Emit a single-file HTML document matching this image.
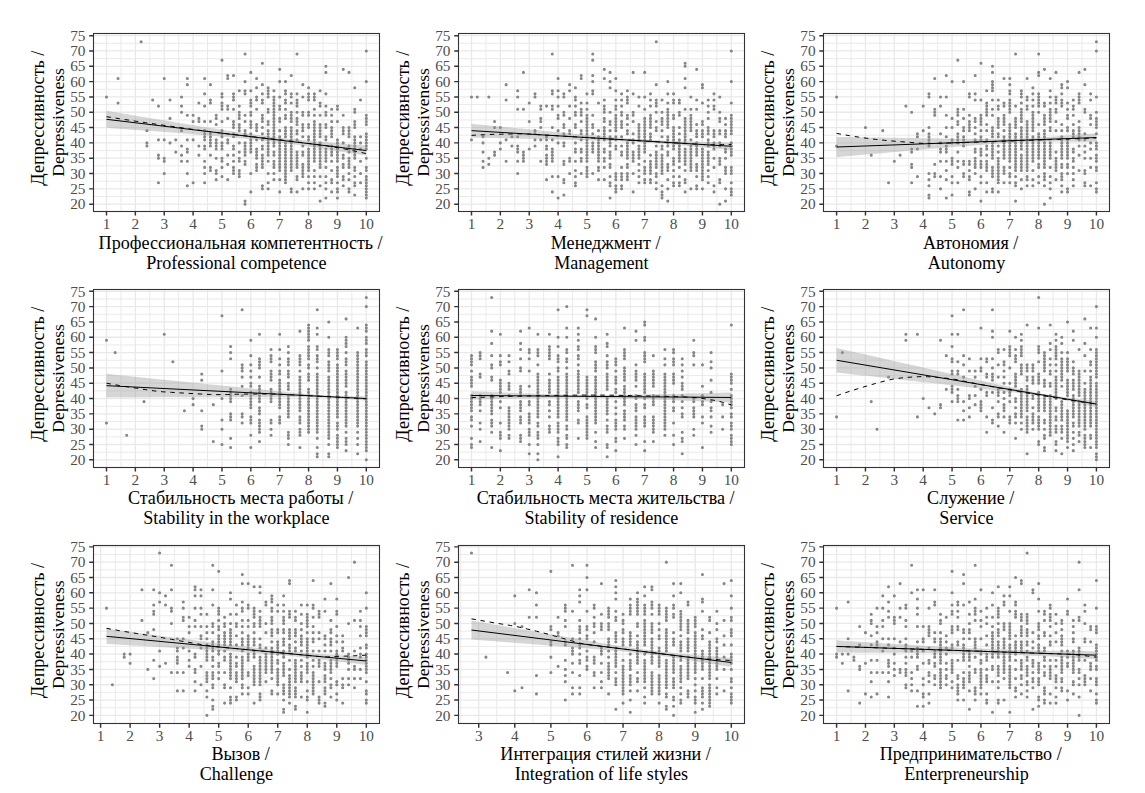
<!DOCTYPE html>
<html><head><meta charset="utf-8"><title>Depressiveness scatter plots</title>
<style>html,body{margin:0;padding:0;background:#fff;}body{width:1145px;height:793px;overflow:hidden;}svg{display:block;font-family:'Liberation Serif', 'Noto Serif CJK SC', serif;}</style>
</head><body>
<svg width="1145" height="793" viewBox="0 0 1145 793">
<rect width="1145" height="793" fill="#fff"/>
<g>
<clipPath id="c0"><rect x="93.5" y="33.5" width="285.8" height="177.7"/></clipPath>
<path d="M120.93 33.5V211.2M149.79 33.5V211.2M178.66 33.5V211.2M207.53 33.5V211.2M236.4 33.5V211.2M265.27 33.5V211.2M294.14 33.5V211.2M323.01 33.5V211.2M351.87 33.5V211.2M93.5 196.51H379.3M93.5 181.19H379.3M93.5 165.87H379.3M93.5 150.55H379.3M93.5 135.23H379.3M93.5 119.91H379.3M93.5 104.59H379.3M93.5 89.27H379.3M93.5 73.95H379.3M93.5 58.63H379.3M93.5 43.31H379.3" stroke="#E9E9E9" stroke-width="0.95" fill="none"/>
<path d="M106.49 33.5V211.2M135.36 33.5V211.2M164.23 33.5V211.2M193.1 33.5V211.2M221.97 33.5V211.2M250.83 33.5V211.2M279.7 33.5V211.2M308.57 33.5V211.2M337.44 33.5V211.2M366.31 33.5V211.2M93.5 204.17H379.3M93.5 188.85H379.3M93.5 173.53H379.3M93.5 158.21H379.3M93.5 142.89H379.3M93.5 127.57H379.3M93.5 112.25H379.3M93.5 96.93H379.3M93.5 81.61H379.3M93.5 66.29H379.3M93.5 50.97H379.3M93.5 35.65H379.3" stroke="#E9E9E9" stroke-width="1.3" fill="none"/>
<path d="M106.49 96.93h0M118.04 103.06h0M118.04 78.55h0M141.13 41.78h0M146.91 145.95h0M146.91 142.89h0M146.91 130.63h0M152.68 99.99h0M158.45 182.72h0M158.45 158.21h0M158.45 155.15h0M158.45 139.83h0M158.45 106.12h0M164.23 173.53h0M164.23 161.27h0M164.23 158.21h0M164.23 139.83h0M164.23 78.55h0M170 142.89h0M170 118.38h0M170 99.99h0M175.78 152.08h0M175.78 139.83h0M181.55 161.27h0M181.55 155.15h0M181.55 145.95h0M181.55 130.63h0M181.55 112.25h0M181.55 106.12h0M181.55 96.93h0M187.32 185.79h0M187.32 173.53h0M187.32 161.27h0M187.32 152.08h0M187.32 149.02h0M187.32 139.83h0M187.32 115.31h0M187.32 84.67h0M187.32 78.55h0M193.1 182.72h0M193.1 139.83h0M193.1 121.44h0M193.1 115.31h0M198.87 155.15h0M198.87 145.95h0M198.87 121.44h0M198.87 118.38h0M198.87 103.06h0M204.64 182.72h0M204.64 173.53h0M204.64 167.4h0M204.64 161.27h0M204.64 149.02h0M204.64 145.95h0M204.64 139.83h0M204.64 136.76h0M204.64 133.7h0M204.64 130.63h0M204.64 121.44h0M204.64 106.12h0M204.64 93.87h0M204.64 78.55h0M210.42 170.47h0M210.42 167.4h0M210.42 155.15h0M210.42 145.95h0M210.42 142.89h0M210.42 139.83h0M210.42 136.76h0M210.42 133.7h0M210.42 121.44h0M210.42 103.06h0M210.42 99.99h0M210.42 84.67h0M216.19 179.66h0M216.19 173.53h0M216.19 170.47h0M216.19 158.21h0M216.19 149.02h0M216.19 145.95h0M216.19 142.89h0M216.19 139.83h0M216.19 124.51h0M216.19 118.38h0M216.19 115.31h0M221.97 176.59h0M221.97 167.4h0M221.97 161.27h0M221.97 158.21h0M221.97 149.02h0M221.97 145.95h0M221.97 142.89h0M221.97 136.76h0M221.97 133.7h0M221.97 130.63h0M221.97 121.44h0M221.97 109.19h0M221.97 106.12h0M221.97 103.06h0M221.97 96.93h0M221.97 93.87h0M221.97 60.16h0M227.74 179.66h0M227.74 164.34h0M227.74 155.15h0M227.74 142.89h0M227.74 139.83h0M227.74 118.38h0M227.74 109.19h0M227.74 106.12h0M227.74 78.55h0M227.74 75.48h0M233.51 173.53h0M233.51 170.47h0M233.51 167.4h0M233.51 161.27h0M233.51 155.15h0M233.51 149.02h0M233.51 145.95h0M233.51 136.76h0M233.51 133.7h0M233.51 127.57h0M233.51 124.51h0M233.51 121.44h0M233.51 109.19h0M233.51 99.99h0M233.51 96.93h0M233.51 93.87h0M233.51 75.48h0M239.29 176.59h0M239.29 173.53h0M239.29 170.47h0M239.29 161.27h0M239.29 158.21h0M239.29 152.08h0M239.29 142.89h0M239.29 130.63h0M239.29 127.57h0M239.29 124.51h0M239.29 118.38h0M239.29 115.31h0M239.29 112.25h0M239.29 106.12h0M239.29 90.8h0M245.06 204.17h0M245.06 201.11h0M245.06 164.34h0M245.06 161.27h0M245.06 155.15h0M245.06 152.08h0M245.06 149.02h0M245.06 145.95h0M245.06 142.89h0M245.06 133.7h0M245.06 130.63h0M245.06 121.44h0M245.06 115.31h0M245.06 93.87h0M245.06 90.8h0M245.06 81.61h0M245.06 54.03h0M250.83 191.91h0M250.83 173.53h0M250.83 152.08h0M250.83 149.02h0M250.83 145.95h0M250.83 142.89h0M250.83 139.83h0M250.83 136.76h0M250.83 133.7h0M250.83 127.57h0M250.83 124.51h0M250.83 121.44h0M250.83 115.31h0M250.83 112.25h0M250.83 106.12h0M250.83 103.06h0M250.83 99.99h0M250.83 90.8h0M250.83 72.42h0M256.61 170.47h0M256.61 167.4h0M256.61 164.34h0M256.61 158.21h0M256.61 155.15h0M256.61 152.08h0M256.61 149.02h0M256.61 139.83h0M256.61 130.63h0M256.61 127.57h0M256.61 124.51h0M256.61 109.19h0M256.61 99.99h0M256.61 96.93h0M256.61 87.74h0M256.61 78.55h0M262.38 188.85h0M262.38 185.79h0M262.38 167.4h0M262.38 164.34h0M262.38 161.27h0M262.38 158.21h0M262.38 155.15h0M262.38 149.02h0M262.38 145.95h0M262.38 139.83h0M262.38 133.7h0M262.38 127.57h0M262.38 121.44h0M262.38 118.38h0M262.38 115.31h0M262.38 103.06h0M262.38 99.99h0M262.38 93.87h0M262.38 84.67h0M262.38 63.23h0M268.16 188.85h0M268.16 182.72h0M268.16 173.53h0M268.16 161.27h0M268.16 155.15h0M268.16 152.08h0M268.16 149.02h0M268.16 145.95h0M268.16 142.89h0M268.16 139.83h0M268.16 136.76h0M268.16 133.7h0M268.16 130.63h0M268.16 124.51h0M268.16 121.44h0M268.16 112.25h0M268.16 109.19h0M268.16 96.93h0M268.16 93.87h0M268.16 90.8h0M268.16 87.74h0M273.93 179.66h0M273.93 173.53h0M273.93 167.4h0M273.93 164.34h0M273.93 161.27h0M273.93 155.15h0M273.93 152.08h0M273.93 145.95h0M273.93 142.89h0M273.93 139.83h0M273.93 136.76h0M273.93 133.7h0M273.93 130.63h0M273.93 127.57h0M273.93 124.51h0M273.93 121.44h0M273.93 118.38h0M273.93 115.31h0M273.93 112.25h0M273.93 109.19h0M273.93 106.12h0M273.93 103.06h0M273.93 99.99h0M273.93 96.93h0M273.93 90.8h0M279.7 191.91h0M279.7 179.66h0M279.7 170.47h0M279.7 167.4h0M279.7 164.34h0M279.7 161.27h0M279.7 158.21h0M279.7 155.15h0M279.7 152.08h0M279.7 149.02h0M279.7 145.95h0M279.7 142.89h0M279.7 139.83h0M279.7 136.76h0M279.7 130.63h0M279.7 121.44h0M279.7 118.38h0M279.7 109.19h0M279.7 106.12h0M279.7 96.93h0M279.7 81.61h0M279.7 69.35h0M285.48 182.72h0M285.48 179.66h0M285.48 176.59h0M285.48 173.53h0M285.48 170.47h0M285.48 167.4h0M285.48 164.34h0M285.48 161.27h0M285.48 158.21h0M285.48 155.15h0M285.48 152.08h0M285.48 149.02h0M285.48 145.95h0M285.48 142.89h0M285.48 136.76h0M285.48 133.7h0M285.48 130.63h0M285.48 127.57h0M285.48 118.38h0M285.48 115.31h0M285.48 109.19h0M285.48 103.06h0M285.48 99.99h0M285.48 93.87h0M285.48 90.8h0M285.48 81.61h0M291.25 191.91h0M291.25 188.85h0M291.25 170.47h0M291.25 167.4h0M291.25 164.34h0M291.25 161.27h0M291.25 158.21h0M291.25 155.15h0M291.25 152.08h0M291.25 149.02h0M291.25 145.95h0M291.25 142.89h0M291.25 139.83h0M291.25 136.76h0M291.25 133.7h0M291.25 130.63h0M291.25 127.57h0M291.25 121.44h0M291.25 118.38h0M291.25 115.31h0M291.25 112.25h0M291.25 103.06h0M291.25 96.93h0M291.25 93.87h0M291.25 75.48h0M297.02 191.91h0M297.02 179.66h0M297.02 176.59h0M297.02 167.4h0M297.02 164.34h0M297.02 161.27h0M297.02 158.21h0M297.02 155.15h0M297.02 152.08h0M297.02 139.83h0M297.02 133.7h0M297.02 130.63h0M297.02 124.51h0M297.02 121.44h0M297.02 118.38h0M297.02 112.25h0M297.02 106.12h0M297.02 103.06h0M297.02 99.99h0M297.02 93.87h0M297.02 54.03h0M302.8 188.85h0M302.8 176.59h0M302.8 173.53h0M302.8 170.47h0M302.8 167.4h0M302.8 164.34h0M302.8 155.15h0M302.8 152.08h0M302.8 145.95h0M302.8 136.76h0M302.8 130.63h0M302.8 127.57h0M302.8 124.51h0M302.8 115.31h0M302.8 112.25h0M302.8 96.93h0M302.8 84.67h0M308.57 188.85h0M308.57 182.72h0M308.57 176.59h0M308.57 170.47h0M308.57 167.4h0M308.57 164.34h0M308.57 161.27h0M308.57 158.21h0M308.57 155.15h0M308.57 152.08h0M308.57 149.02h0M308.57 139.83h0M308.57 136.76h0M308.57 127.57h0M308.57 124.51h0M308.57 115.31h0M308.57 112.25h0M308.57 99.99h0M308.57 96.93h0M308.57 93.87h0M308.57 87.74h0M314.35 188.85h0M314.35 182.72h0M314.35 176.59h0M314.35 170.47h0M314.35 161.27h0M314.35 158.21h0M314.35 155.15h0M314.35 152.08h0M314.35 149.02h0M314.35 145.95h0M314.35 142.89h0M314.35 139.83h0M314.35 136.76h0M314.35 133.7h0M314.35 130.63h0M314.35 127.57h0M314.35 124.51h0M314.35 121.44h0M314.35 115.31h0M314.35 109.19h0M314.35 99.99h0M314.35 96.93h0M314.35 93.87h0M320.12 201.11h0M320.12 185.79h0M320.12 176.59h0M320.12 167.4h0M320.12 164.34h0M320.12 161.27h0M320.12 158.21h0M320.12 155.15h0M320.12 152.08h0M320.12 149.02h0M320.12 145.95h0M320.12 142.89h0M320.12 136.76h0M320.12 133.7h0M320.12 130.63h0M320.12 127.57h0M320.12 124.51h0M320.12 115.31h0M320.12 106.12h0M320.12 103.06h0M320.12 90.8h0M325.89 198.04h0M325.89 188.85h0M325.89 182.72h0M325.89 176.59h0M325.89 167.4h0M325.89 161.27h0M325.89 158.21h0M325.89 155.15h0M325.89 152.08h0M325.89 149.02h0M325.89 139.83h0M325.89 136.76h0M325.89 127.57h0M325.89 124.51h0M325.89 115.31h0M325.89 112.25h0M325.89 106.12h0M325.89 93.87h0M325.89 72.42h0M325.89 66.29h0M331.67 191.91h0M331.67 182.72h0M331.67 179.66h0M331.67 170.47h0M331.67 161.27h0M331.67 155.15h0M331.67 152.08h0M331.67 149.02h0M331.67 145.95h0M331.67 136.76h0M331.67 133.7h0M331.67 130.63h0M331.67 127.57h0M331.67 121.44h0M331.67 115.31h0M331.67 109.19h0M337.44 198.04h0M337.44 191.91h0M337.44 188.85h0M337.44 182.72h0M337.44 176.59h0M337.44 173.53h0M337.44 170.47h0M337.44 167.4h0M337.44 161.27h0M337.44 158.21h0M337.44 155.15h0M337.44 152.08h0M337.44 149.02h0M337.44 145.95h0M337.44 142.89h0M337.44 139.83h0M337.44 121.44h0M337.44 109.19h0M337.44 106.12h0M343.21 185.79h0M343.21 179.66h0M343.21 176.59h0M343.21 167.4h0M343.21 164.34h0M343.21 158.21h0M343.21 155.15h0M343.21 142.89h0M343.21 133.7h0M343.21 130.63h0M343.21 127.57h0M343.21 115.31h0M343.21 69.35h0M348.99 191.91h0M348.99 188.85h0M348.99 179.66h0M348.99 173.53h0M348.99 167.4h0M348.99 164.34h0M348.99 161.27h0M348.99 158.21h0M348.99 152.08h0M348.99 149.02h0M348.99 145.95h0M348.99 136.76h0M348.99 133.7h0M348.99 130.63h0M348.99 127.57h0M348.99 72.42h0M354.76 194.98h0M354.76 185.79h0M354.76 182.72h0M354.76 176.59h0M354.76 170.47h0M354.76 167.4h0M354.76 158.21h0M354.76 155.15h0M354.76 152.08h0M354.76 149.02h0M354.76 145.95h0M354.76 142.89h0M354.76 139.83h0M354.76 136.76h0M354.76 127.57h0M354.76 124.51h0M354.76 121.44h0M354.76 112.25h0M354.76 109.19h0M354.76 87.74h0M360.54 182.72h0M360.54 173.53h0M360.54 161.27h0M360.54 149.02h0M360.54 142.89h0M360.54 136.76h0M360.54 99.99h0M366.31 198.04h0M366.31 194.98h0M366.31 191.91h0M366.31 188.85h0M366.31 185.79h0M366.31 182.72h0M366.31 179.66h0M366.31 176.59h0M366.31 170.47h0M366.31 167.4h0M366.31 158.21h0M366.31 149.02h0M366.31 145.95h0M366.31 142.89h0M366.31 139.83h0M366.31 136.76h0M366.31 133.7h0M366.31 124.51h0M366.31 121.44h0M366.31 118.38h0M366.31 115.31h0M366.31 81.61h0M366.31 50.97h0" stroke="#868686" stroke-width="3.1" stroke-linecap="round" fill="none" clip-path="url(#c0)"/>
<path d="M106.49 110.87L112.99 111.95L119.48 113.03L125.98 114.11L132.47 115.19L138.97 116.27L145.46 117.34L151.96 118.41L158.45 119.49L164.95 120.55L171.45 121.62L177.94 122.68L184.44 123.74L190.93 124.79L197.43 125.84L203.92 126.88L210.42 127.92L216.91 128.94L223.41 129.95L229.9 130.95L236.4 131.93L242.9 132.89L249.39 133.83L255.89 134.73L262.38 135.6L268.88 136.43L275.37 137.23L281.87 137.98L288.36 138.69L294.86 139.37L301.35 140.01L307.85 140.63L314.35 141.22L320.84 141.79L327.34 142.35L333.83 142.9L340.33 143.43L346.82 143.96L353.32 144.47L359.81 144.99L366.31 145.49L366.31 155.61L359.81 154.55L353.32 153.5L346.82 152.46L340.33 151.42L333.83 150.39L327.34 149.37L320.84 148.37L314.35 147.38L307.85 146.41L301.35 145.46L294.86 144.54L288.36 143.66L281.87 142.8L275.37 142L268.88 141.23L262.38 140.49L255.89 139.8L249.39 139.15L242.9 138.52L236.4 137.92L229.9 137.33L223.41 136.77L216.91 136.22L210.42 135.68L203.92 135.15L197.43 134.63L190.93 134.11L184.44 133.61L177.94 133.1L171.45 132.6L164.95 132.1L158.45 131.61L151.96 131.12L145.46 130.63L138.97 130.14L132.47 129.65L125.98 129.17L119.48 128.69L112.99 128.2L106.49 127.72Z" fill="#999999" fill-opacity="0.4" clip-path="url(#c0)"/>
<path d="M106.49 116.69L110.82 117.37L115.15 118.04L119.48 118.71L123.81 119.37L128.14 120.03L132.47 120.69L136.8 121.33L141.13 121.98L145.46 122.62L149.79 123.25L154.12 123.88L158.45 124.5L162.78 125.12L167.12 125.73L171.45 126.34L175.78 126.96L180.11 127.58L184.44 128.19L188.77 128.8L193.1 129.41L197.43 130L201.76 130.59L206.09 131.17L210.42 131.74L214.75 132.29L219.08 132.84L223.41 133.36L227.74 133.87L232.07 134.38L236.4 134.87L240.73 135.37L245.06 135.86L249.39 136.35L253.72 136.83L258.05 137.32L262.38 137.81L266.71 138.3L271.04 138.8L275.37 139.31L279.7 139.83L284.03 140.35L288.36 140.88L292.69 141.42L297.02 141.96L301.35 142.51L305.68 143.07L310.02 143.63L314.35 144.2L318.68 144.77L323.01 145.34L327.34 145.95L331.67 146.63L336 147.37L340.33 148.16L344.66 148.99L348.99 149.87L353.32 150.77L357.65 151.7L361.98 152.65L366.31 153.61" stroke="#000" stroke-width="1" stroke-dasharray="4.5,4.7" fill="none" clip-path="url(#c0)"/>
<path d="M106.49 119.3L366.31 150.55" stroke="#000" stroke-width="1" fill="none" clip-path="url(#c0)"/>
<rect x="93.5" y="33.5" width="286" height="178" fill="none" stroke="#333333" stroke-width="1.1"/>
<path d="M106.49 211.2v4.3M135.36 211.2v4.3M164.23 211.2v4.3M193.1 211.2v4.3M221.97 211.2v4.3M250.83 211.2v4.3M279.7 211.2v4.3M308.57 211.2v4.3M337.44 211.2v4.3M366.31 211.2v4.3M93.5 204.17h-4.3M93.5 188.85h-4.3M93.5 173.53h-4.3M93.5 158.21h-4.3M93.5 142.89h-4.3M93.5 127.57h-4.3M93.5 112.25h-4.3M93.5 96.93h-4.3M93.5 81.61h-4.3M93.5 66.29h-4.3M93.5 50.97h-4.3M93.5 35.65h-4.3" stroke="#333333" stroke-width="1.45" fill="none"/>
<text x="106.49" y="229.3" text-anchor="middle" font-size="15.3" fill="#4D4D4D">1</text>
<text x="135.36" y="229.3" text-anchor="middle" font-size="15.3" fill="#4D4D4D">2</text>
<text x="164.23" y="229.3" text-anchor="middle" font-size="15.3" fill="#4D4D4D">3</text>
<text x="193.1" y="229.3" text-anchor="middle" font-size="15.3" fill="#4D4D4D">4</text>
<text x="221.97" y="229.3" text-anchor="middle" font-size="15.3" fill="#4D4D4D">5</text>
<text x="250.83" y="229.3" text-anchor="middle" font-size="15.3" fill="#4D4D4D">6</text>
<text x="279.7" y="229.3" text-anchor="middle" font-size="15.3" fill="#4D4D4D">7</text>
<text x="308.57" y="229.3" text-anchor="middle" font-size="15.3" fill="#4D4D4D">8</text>
<text x="337.44" y="229.3" text-anchor="middle" font-size="15.3" fill="#4D4D4D">9</text>
<text x="366.31" y="229.3" text-anchor="middle" font-size="15.3" fill="#4D4D4D">10</text>
<text x="85.5" y="209.37" text-anchor="end" font-size="15.3" fill="#4D4D4D">20</text>
<text x="85.5" y="194.05" text-anchor="end" font-size="15.3" fill="#4D4D4D">25</text>
<text x="85.5" y="178.73" text-anchor="end" font-size="15.3" fill="#4D4D4D">30</text>
<text x="85.5" y="163.41" text-anchor="end" font-size="15.3" fill="#4D4D4D">35</text>
<text x="85.5" y="148.09" text-anchor="end" font-size="15.3" fill="#4D4D4D">40</text>
<text x="85.5" y="132.77" text-anchor="end" font-size="15.3" fill="#4D4D4D">45</text>
<text x="85.5" y="117.45" text-anchor="end" font-size="15.3" fill="#4D4D4D">50</text>
<text x="85.5" y="102.13" text-anchor="end" font-size="15.3" fill="#4D4D4D">55</text>
<text x="85.5" y="86.81" text-anchor="end" font-size="15.3" fill="#4D4D4D">60</text>
<text x="85.5" y="71.49" text-anchor="end" font-size="15.3" fill="#4D4D4D">65</text>
<text x="85.5" y="56.17" text-anchor="end" font-size="15.3" fill="#4D4D4D">70</text>
<text x="85.5" y="40.85" text-anchor="end" font-size="15.3" fill="#4D4D4D">75</text>
<text x="240.6" y="249" text-anchor="middle" font-size="18.1" fill="#000">Профессиональная компетентность /</text>
<text x="236.4" y="268.6" text-anchor="middle" font-size="18.1" fill="#000">Professional competence</text>
<text transform="translate(43.9,118.15) rotate(-90)" text-anchor="middle" font-size="18.1" fill="#000">Депрессивность /</text>
<text transform="translate(63.5,122.35) rotate(-90)" text-anchor="middle" font-size="17.62" fill="#000">Depressiveness</text>
</g>
<g>
<clipPath id="c1"><rect x="458.5" y="33.5" width="285.8" height="177.7"/></clipPath>
<path d="M485.93 33.5V211.2M514.79 33.5V211.2M543.66 33.5V211.2M572.53 33.5V211.2M601.4 33.5V211.2M630.27 33.5V211.2M659.14 33.5V211.2M688.01 33.5V211.2M716.87 33.5V211.2M458.5 196.51H744.3M458.5 181.19H744.3M458.5 165.87H744.3M458.5 150.55H744.3M458.5 135.23H744.3M458.5 119.91H744.3M458.5 104.59H744.3M458.5 89.27H744.3M458.5 73.95H744.3M458.5 58.63H744.3M458.5 43.31H744.3" stroke="#E9E9E9" stroke-width="0.95" fill="none"/>
<path d="M471.49 33.5V211.2M500.36 33.5V211.2M529.23 33.5V211.2M558.1 33.5V211.2M586.97 33.5V211.2M615.83 33.5V211.2M644.7 33.5V211.2M673.57 33.5V211.2M702.44 33.5V211.2M731.31 33.5V211.2M458.5 204.17H744.3M458.5 188.85H744.3M458.5 173.53H744.3M458.5 158.21H744.3M458.5 142.89H744.3M458.5 127.57H744.3M458.5 112.25H744.3M458.5 96.93H744.3M458.5 81.61H744.3M458.5 66.29H744.3M458.5 50.97H744.3M458.5 35.65H744.3" stroke="#E9E9E9" stroke-width="1.3" fill="none"/>
<path d="M471.49 139.83h0M471.49 96.93h0M477.26 96.93h0M483.04 167.4h0M483.04 161.27h0M483.04 152.08h0M483.04 142.89h0M483.04 136.76h0M488.81 164.34h0M488.81 158.21h0M488.81 96.93h0M494.59 155.15h0M494.59 152.08h0M494.59 127.57h0M494.59 121.44h0M500.36 149.02h0M500.36 142.89h0M500.36 127.57h0M506.13 161.27h0M506.13 139.83h0M506.13 99.99h0M506.13 84.67h0M511.91 145.95h0M511.91 136.76h0M517.68 173.53h0M517.68 161.27h0M517.68 152.08h0M517.68 149.02h0M517.68 145.95h0M517.68 136.76h0M517.68 109.19h0M517.68 96.93h0M517.68 90.8h0M523.45 161.27h0M523.45 158.21h0M523.45 155.15h0M523.45 152.08h0M523.45 109.19h0M523.45 72.42h0M529.23 149.02h0M529.23 121.44h0M529.23 103.06h0M535 145.95h0M535 139.83h0M535 133.7h0M535 130.63h0M535 96.93h0M535 93.87h0M540.78 161.27h0M540.78 139.83h0M540.78 127.57h0M540.78 121.44h0M540.78 118.38h0M540.78 109.19h0M540.78 106.12h0M546.55 179.66h0M546.55 164.34h0M546.55 161.27h0M546.55 158.21h0M546.55 155.15h0M546.55 149.02h0M546.55 145.95h0M546.55 139.83h0M546.55 136.76h0M546.55 106.12h0M552.32 191.91h0M552.32 176.59h0M552.32 161.27h0M552.32 158.21h0M552.32 155.15h0M552.32 152.08h0M552.32 149.02h0M552.32 139.83h0M552.32 127.57h0M552.32 109.19h0M552.32 106.12h0M552.32 93.87h0M552.32 90.8h0M552.32 54.03h0M558.1 198.04h0M558.1 176.59h0M558.1 142.89h0M558.1 130.63h0M558.1 118.38h0M558.1 115.31h0M558.1 106.12h0M558.1 96.93h0M558.1 90.8h0M558.1 78.55h0M563.87 194.98h0M563.87 182.72h0M563.87 179.66h0M563.87 164.34h0M563.87 161.27h0M563.87 145.95h0M563.87 142.89h0M563.87 133.7h0M563.87 127.57h0M563.87 124.51h0M563.87 115.31h0M563.87 112.25h0M563.87 96.93h0M563.87 93.87h0M569.64 173.53h0M569.64 161.27h0M569.64 158.21h0M569.64 133.7h0M569.64 130.63h0M569.64 118.38h0M569.64 106.12h0M569.64 90.8h0M569.64 84.67h0M575.42 185.79h0M575.42 182.72h0M575.42 176.59h0M575.42 170.47h0M575.42 161.27h0M575.42 152.08h0M575.42 149.02h0M575.42 142.89h0M575.42 127.57h0M575.42 124.51h0M575.42 115.31h0M575.42 112.25h0M575.42 106.12h0M575.42 99.99h0M575.42 96.93h0M575.42 87.74h0M581.19 173.53h0M581.19 161.27h0M581.19 158.21h0M581.19 152.08h0M581.19 149.02h0M581.19 139.83h0M581.19 133.7h0M581.19 130.63h0M581.19 121.44h0M581.19 115.31h0M581.19 112.25h0M581.19 109.19h0M581.19 103.06h0M581.19 78.55h0M581.19 75.48h0M586.97 176.59h0M586.97 173.53h0M586.97 170.47h0M586.97 167.4h0M586.97 161.27h0M586.97 158.21h0M586.97 155.15h0M586.97 152.08h0M586.97 149.02h0M586.97 145.95h0M586.97 142.89h0M586.97 139.83h0M586.97 136.76h0M586.97 133.7h0M586.97 130.63h0M586.97 127.57h0M586.97 124.51h0M586.97 121.44h0M586.97 118.38h0M586.97 115.31h0M586.97 109.19h0M586.97 103.06h0M586.97 93.87h0M592.74 173.53h0M592.74 152.08h0M592.74 149.02h0M592.74 145.95h0M592.74 142.89h0M592.74 133.7h0M592.74 127.57h0M592.74 124.51h0M592.74 115.31h0M592.74 93.87h0M592.74 90.8h0M592.74 81.61h0M592.74 75.48h0M592.74 60.16h0M592.74 54.03h0M598.51 179.66h0M598.51 170.47h0M598.51 167.4h0M598.51 161.27h0M598.51 158.21h0M598.51 155.15h0M598.51 152.08h0M598.51 149.02h0M598.51 145.95h0M598.51 142.89h0M598.51 139.83h0M598.51 136.76h0M598.51 130.63h0M598.51 103.06h0M604.29 179.66h0M604.29 167.4h0M604.29 161.27h0M604.29 158.21h0M604.29 152.08h0M604.29 149.02h0M604.29 139.83h0M604.29 136.76h0M604.29 133.7h0M604.29 130.63h0M604.29 127.57h0M604.29 121.44h0M604.29 118.38h0M604.29 112.25h0M604.29 109.19h0M604.29 106.12h0M604.29 99.99h0M604.29 78.55h0M604.29 69.35h0M610.06 198.04h0M610.06 185.79h0M610.06 182.72h0M610.06 176.59h0M610.06 167.4h0M610.06 164.34h0M610.06 158.21h0M610.06 155.15h0M610.06 152.08h0M610.06 145.95h0M610.06 142.89h0M610.06 139.83h0M610.06 136.76h0M610.06 130.63h0M610.06 124.51h0M610.06 121.44h0M610.06 112.25h0M610.06 87.74h0M610.06 81.61h0M610.06 72.42h0M615.83 191.91h0M615.83 188.85h0M615.83 185.79h0M615.83 179.66h0M615.83 176.59h0M615.83 173.53h0M615.83 149.02h0M615.83 145.95h0M615.83 139.83h0M615.83 136.76h0M615.83 130.63h0M615.83 127.57h0M615.83 124.51h0M615.83 121.44h0M615.83 118.38h0M615.83 115.31h0M615.83 109.19h0M615.83 106.12h0M615.83 99.99h0M615.83 90.8h0M615.83 78.55h0M621.61 188.85h0M621.61 185.79h0M621.61 179.66h0M621.61 176.59h0M621.61 173.53h0M621.61 167.4h0M621.61 155.15h0M621.61 152.08h0M621.61 145.95h0M621.61 136.76h0M621.61 127.57h0M621.61 124.51h0M621.61 121.44h0M621.61 115.31h0M621.61 112.25h0M621.61 106.12h0M621.61 99.99h0M621.61 93.87h0M627.38 179.66h0M627.38 176.59h0M627.38 173.53h0M627.38 167.4h0M627.38 164.34h0M627.38 158.21h0M627.38 155.15h0M627.38 152.08h0M627.38 149.02h0M627.38 145.95h0M627.38 142.89h0M627.38 133.7h0M627.38 130.63h0M627.38 124.51h0M627.38 118.38h0M627.38 115.31h0M627.38 103.06h0M627.38 99.99h0M627.38 96.93h0M627.38 90.8h0M633.16 191.91h0M633.16 173.53h0M633.16 161.27h0M633.16 158.21h0M633.16 155.15h0M633.16 152.08h0M633.16 142.89h0M633.16 139.83h0M633.16 133.7h0M633.16 121.44h0M633.16 115.31h0M633.16 112.25h0M633.16 93.87h0M633.16 72.42h0M638.93 182.72h0M638.93 176.59h0M638.93 170.47h0M638.93 164.34h0M638.93 158.21h0M638.93 155.15h0M638.93 152.08h0M638.93 149.02h0M638.93 145.95h0M638.93 139.83h0M638.93 136.76h0M638.93 133.7h0M638.93 130.63h0M638.93 127.57h0M638.93 124.51h0M638.93 106.12h0M638.93 96.93h0M644.7 182.72h0M644.7 179.66h0M644.7 173.53h0M644.7 170.47h0M644.7 167.4h0M644.7 161.27h0M644.7 152.08h0M644.7 149.02h0M644.7 145.95h0M644.7 142.89h0M644.7 139.83h0M644.7 136.76h0M644.7 133.7h0M644.7 130.63h0M644.7 127.57h0M644.7 124.51h0M644.7 121.44h0M644.7 118.38h0M644.7 109.19h0M644.7 96.93h0M644.7 72.42h0M650.48 182.72h0M650.48 179.66h0M650.48 173.53h0M650.48 170.47h0M650.48 167.4h0M650.48 164.34h0M650.48 161.27h0M650.48 155.15h0M650.48 139.83h0M650.48 136.76h0M650.48 133.7h0M650.48 127.57h0M650.48 124.51h0M650.48 121.44h0M650.48 118.38h0M650.48 115.31h0M650.48 106.12h0M650.48 99.99h0M650.48 93.87h0M656.25 188.85h0M656.25 182.72h0M656.25 176.59h0M656.25 173.53h0M656.25 167.4h0M656.25 164.34h0M656.25 161.27h0M656.25 158.21h0M656.25 155.15h0M656.25 152.08h0M656.25 145.95h0M656.25 130.63h0M656.25 127.57h0M656.25 121.44h0M656.25 112.25h0M656.25 106.12h0M656.25 103.06h0M656.25 99.99h0M656.25 84.67h0M656.25 41.78h0M662.02 198.04h0M662.02 194.98h0M662.02 191.91h0M662.02 185.79h0M662.02 173.53h0M662.02 170.47h0M662.02 167.4h0M662.02 164.34h0M662.02 161.27h0M662.02 158.21h0M662.02 155.15h0M662.02 149.02h0M662.02 145.95h0M662.02 136.76h0M662.02 130.63h0M662.02 124.51h0M662.02 121.44h0M662.02 118.38h0M662.02 112.25h0M662.02 99.99h0M667.8 201.11h0M667.8 188.85h0M667.8 179.66h0M667.8 170.47h0M667.8 167.4h0M667.8 164.34h0M667.8 155.15h0M667.8 152.08h0M667.8 145.95h0M667.8 142.89h0M667.8 139.83h0M667.8 136.76h0M667.8 127.57h0M667.8 124.51h0M667.8 121.44h0M667.8 118.38h0M667.8 115.31h0M667.8 112.25h0M667.8 109.19h0M667.8 103.06h0M667.8 93.87h0M667.8 81.61h0M673.57 185.79h0M673.57 182.72h0M673.57 176.59h0M673.57 170.47h0M673.57 164.34h0M673.57 161.27h0M673.57 158.21h0M673.57 149.02h0M673.57 145.95h0M673.57 142.89h0M673.57 139.83h0M673.57 136.76h0M673.57 133.7h0M673.57 130.63h0M673.57 127.57h0M673.57 118.38h0M673.57 115.31h0M673.57 103.06h0M673.57 99.99h0M673.57 93.87h0M679.35 185.79h0M679.35 182.72h0M679.35 176.59h0M679.35 167.4h0M679.35 161.27h0M679.35 158.21h0M679.35 155.15h0M679.35 152.08h0M679.35 149.02h0M679.35 145.95h0M679.35 142.89h0M679.35 139.83h0M679.35 133.7h0M679.35 127.57h0M679.35 115.31h0M679.35 112.25h0M679.35 103.06h0M679.35 99.99h0M685.12 191.91h0M685.12 182.72h0M685.12 179.66h0M685.12 170.47h0M685.12 164.34h0M685.12 161.27h0M685.12 158.21h0M685.12 155.15h0M685.12 152.08h0M685.12 149.02h0M685.12 142.89h0M685.12 139.83h0M685.12 136.76h0M685.12 133.7h0M685.12 130.63h0M685.12 127.57h0M685.12 124.51h0M685.12 121.44h0M685.12 118.38h0M685.12 109.19h0M685.12 87.74h0M685.12 78.55h0M685.12 66.29h0M685.12 63.23h0M690.89 188.85h0M690.89 170.47h0M690.89 167.4h0M690.89 164.34h0M690.89 161.27h0M690.89 158.21h0M690.89 155.15h0M690.89 152.08h0M690.89 149.02h0M690.89 145.95h0M690.89 139.83h0M690.89 130.63h0M690.89 127.57h0M690.89 124.51h0M690.89 121.44h0M690.89 118.38h0M690.89 115.31h0M690.89 109.19h0M690.89 96.93h0M696.67 188.85h0M696.67 185.79h0M696.67 176.59h0M696.67 170.47h0M696.67 167.4h0M696.67 164.34h0M696.67 155.15h0M696.67 152.08h0M696.67 149.02h0M696.67 145.95h0M696.67 142.89h0M696.67 136.76h0M696.67 133.7h0M696.67 130.63h0M696.67 124.51h0M696.67 109.19h0M696.67 99.99h0M696.67 69.35h0M702.44 188.85h0M702.44 179.66h0M702.44 176.59h0M702.44 173.53h0M702.44 170.47h0M702.44 167.4h0M702.44 164.34h0M702.44 161.27h0M702.44 158.21h0M702.44 155.15h0M702.44 152.08h0M702.44 149.02h0M702.44 136.76h0M702.44 133.7h0M702.44 130.63h0M702.44 124.51h0M702.44 121.44h0M702.44 103.06h0M702.44 87.74h0M702.44 84.67h0M708.21 182.72h0M708.21 176.59h0M708.21 170.47h0M708.21 164.34h0M708.21 161.27h0M708.21 158.21h0M708.21 155.15h0M708.21 152.08h0M708.21 145.95h0M708.21 142.89h0M708.21 139.83h0M708.21 133.7h0M708.21 130.63h0M708.21 127.57h0M708.21 118.38h0M708.21 112.25h0M708.21 106.12h0M708.21 99.99h0M713.99 191.91h0M713.99 185.79h0M713.99 167.4h0M713.99 158.21h0M713.99 149.02h0M713.99 145.95h0M713.99 142.89h0M713.99 136.76h0M713.99 133.7h0M713.99 130.63h0M713.99 109.19h0M713.99 106.12h0M713.99 99.99h0M713.99 93.87h0M719.76 204.17h0M719.76 182.72h0M719.76 179.66h0M719.76 164.34h0M719.76 161.27h0M719.76 158.21h0M719.76 145.95h0M719.76 142.89h0M719.76 133.7h0M719.76 130.63h0M719.76 121.44h0M719.76 118.38h0M719.76 112.25h0M719.76 96.93h0M725.54 201.11h0M725.54 188.85h0M725.54 173.53h0M725.54 170.47h0M725.54 167.4h0M725.54 158.21h0M725.54 152.08h0M725.54 149.02h0M725.54 136.76h0M725.54 133.7h0M725.54 130.63h0M725.54 124.51h0M725.54 118.38h0M731.31 194.98h0M731.31 191.91h0M731.31 188.85h0M731.31 182.72h0M731.31 173.53h0M731.31 170.47h0M731.31 167.4h0M731.31 155.15h0M731.31 152.08h0M731.31 149.02h0M731.31 145.95h0M731.31 142.89h0M731.31 133.7h0M731.31 130.63h0M731.31 127.57h0M731.31 124.51h0M731.31 121.44h0M731.31 118.38h0M731.31 115.31h0M731.31 103.06h0M731.31 81.61h0M731.31 50.97h0" stroke="#868686" stroke-width="3.1" stroke-linecap="round" fill="none" clip-path="url(#c1)"/>
<path d="M471.49 123.74L477.99 124.38L484.48 125.01L490.98 125.65L497.47 126.29L503.97 126.92L510.46 127.55L516.96 128.19L523.45 128.82L529.95 129.45L536.45 130.08L542.94 130.71L549.44 131.34L555.93 131.96L562.43 132.58L568.92 133.2L575.42 133.81L581.91 134.42L588.41 135.02L594.9 135.62L601.4 136.21L607.9 136.78L614.39 137.34L620.89 137.87L627.38 138.39L633.88 138.86L640.37 139.31L646.87 139.7L653.36 140.06L659.86 140.37L666.35 140.65L672.85 140.9L679.35 141.14L685.84 141.35L692.34 141.55L698.83 141.73L705.33 141.92L711.82 142.09L718.32 142.26L724.81 142.42L731.31 142.58L731.31 149.94L724.81 149.32L718.32 148.7L711.82 148.09L705.33 147.48L698.83 146.88L692.34 146.28L685.84 145.7L679.35 145.13L672.85 144.58L666.35 144.05L659.86 143.55L653.36 143.09L646.87 142.66L640.37 142.28L633.88 141.94L627.38 141.63L620.89 141.36L614.39 141.12L607.9 140.9L601.4 140.69L594.9 140.49L588.41 140.31L581.91 140.13L575.42 139.96L568.92 139.79L562.43 139.63L555.93 139.47L549.44 139.31L542.94 139.15L536.45 139L529.95 138.85L523.45 138.7L516.96 138.55L510.46 138.4L503.97 138.25L497.47 138.11L490.98 137.96L484.48 137.82L477.99 137.67L471.49 137.53Z" fill="#999999" fill-opacity="0.4" clip-path="url(#c1)"/>
<path d="M471.49 135.38L475.82 135.14L480.15 134.91L484.48 134.71L488.81 134.53L493.14 134.38L497.47 134.27L501.8 134.18L506.13 134.07L510.46 133.96L514.79 133.88L519.12 133.84L523.45 133.88L527.78 134.03L532.12 134.28L536.45 134.54L540.78 134.8L545.11 135.06L549.44 135.32L553.77 135.58L558.1 135.84L562.43 136.1L566.76 136.36L571.09 136.62L575.42 136.88L579.75 137.15L584.08 137.41L588.41 137.67L592.74 137.93L597.07 138.19L601.4 138.45L605.73 138.71L610.06 138.97L614.39 139.23L618.72 139.49L623.05 139.75L627.38 140.01L631.71 140.27L636.04 140.53L640.37 140.79L644.7 141.05L649.03 141.31L653.36 141.57L657.69 141.83L662.02 142.09L666.35 142.35L670.68 142.61L675.02 142.87L679.35 143.14L683.68 143.4L688.01 143.66L692.34 143.92L696.67 144.18L701 144.44L705.33 144.66L709.66 144.77L713.99 144.77L718.32 144.71L722.65 144.61L726.98 144.5L731.31 144.42" stroke="#000" stroke-width="1" stroke-dasharray="4.5,4.7" fill="none" clip-path="url(#c1)"/>
<path d="M471.49 130.63L731.31 146.26" stroke="#000" stroke-width="1" fill="none" clip-path="url(#c1)"/>
<rect x="458.5" y="33.5" width="286" height="178" fill="none" stroke="#333333" stroke-width="1.1"/>
<path d="M471.49 211.2v4.3M500.36 211.2v4.3M529.23 211.2v4.3M558.1 211.2v4.3M586.97 211.2v4.3M615.83 211.2v4.3M644.7 211.2v4.3M673.57 211.2v4.3M702.44 211.2v4.3M731.31 211.2v4.3M458.5 204.17h-4.3M458.5 188.85h-4.3M458.5 173.53h-4.3M458.5 158.21h-4.3M458.5 142.89h-4.3M458.5 127.57h-4.3M458.5 112.25h-4.3M458.5 96.93h-4.3M458.5 81.61h-4.3M458.5 66.29h-4.3M458.5 50.97h-4.3M458.5 35.65h-4.3" stroke="#333333" stroke-width="1.45" fill="none"/>
<text x="471.49" y="229.3" text-anchor="middle" font-size="15.3" fill="#4D4D4D">1</text>
<text x="500.36" y="229.3" text-anchor="middle" font-size="15.3" fill="#4D4D4D">2</text>
<text x="529.23" y="229.3" text-anchor="middle" font-size="15.3" fill="#4D4D4D">3</text>
<text x="558.1" y="229.3" text-anchor="middle" font-size="15.3" fill="#4D4D4D">4</text>
<text x="586.97" y="229.3" text-anchor="middle" font-size="15.3" fill="#4D4D4D">5</text>
<text x="615.83" y="229.3" text-anchor="middle" font-size="15.3" fill="#4D4D4D">6</text>
<text x="644.7" y="229.3" text-anchor="middle" font-size="15.3" fill="#4D4D4D">7</text>
<text x="673.57" y="229.3" text-anchor="middle" font-size="15.3" fill="#4D4D4D">8</text>
<text x="702.44" y="229.3" text-anchor="middle" font-size="15.3" fill="#4D4D4D">9</text>
<text x="731.31" y="229.3" text-anchor="middle" font-size="15.3" fill="#4D4D4D">10</text>
<text x="450.5" y="209.37" text-anchor="end" font-size="15.3" fill="#4D4D4D">20</text>
<text x="450.5" y="194.05" text-anchor="end" font-size="15.3" fill="#4D4D4D">25</text>
<text x="450.5" y="178.73" text-anchor="end" font-size="15.3" fill="#4D4D4D">30</text>
<text x="450.5" y="163.41" text-anchor="end" font-size="15.3" fill="#4D4D4D">35</text>
<text x="450.5" y="148.09" text-anchor="end" font-size="15.3" fill="#4D4D4D">40</text>
<text x="450.5" y="132.77" text-anchor="end" font-size="15.3" fill="#4D4D4D">45</text>
<text x="450.5" y="117.45" text-anchor="end" font-size="15.3" fill="#4D4D4D">50</text>
<text x="450.5" y="102.13" text-anchor="end" font-size="15.3" fill="#4D4D4D">55</text>
<text x="450.5" y="86.81" text-anchor="end" font-size="15.3" fill="#4D4D4D">60</text>
<text x="450.5" y="71.49" text-anchor="end" font-size="15.3" fill="#4D4D4D">65</text>
<text x="450.5" y="56.17" text-anchor="end" font-size="15.3" fill="#4D4D4D">70</text>
<text x="450.5" y="40.85" text-anchor="end" font-size="15.3" fill="#4D4D4D">75</text>
<text x="605.6" y="249" text-anchor="middle" font-size="18.1" fill="#000">Менеджмент /</text>
<text x="601.4" y="268.6" text-anchor="middle" font-size="18.1" fill="#000">Management</text>
<text transform="translate(408.9,118.15) rotate(-90)" text-anchor="middle" font-size="18.1" fill="#000">Депрессивность /</text>
<text transform="translate(428.5,122.35) rotate(-90)" text-anchor="middle" font-size="17.62" fill="#000">Depressiveness</text>
</g>
<g>
<clipPath id="c2"><rect x="823.6" y="33.5" width="285.8" height="177.7"/></clipPath>
<path d="M851.03 33.5V211.2M879.89 33.5V211.2M908.76 33.5V211.2M937.63 33.5V211.2M966.5 33.5V211.2M995.37 33.5V211.2M1024.24 33.5V211.2M1053.11 33.5V211.2M1081.97 33.5V211.2M823.6 196.51H1109.4M823.6 181.19H1109.4M823.6 165.87H1109.4M823.6 150.55H1109.4M823.6 135.23H1109.4M823.6 119.91H1109.4M823.6 104.59H1109.4M823.6 89.27H1109.4M823.6 73.95H1109.4M823.6 58.63H1109.4M823.6 43.31H1109.4" stroke="#E9E9E9" stroke-width="0.95" fill="none"/>
<path d="M836.59 33.5V211.2M865.46 33.5V211.2M894.33 33.5V211.2M923.2 33.5V211.2M952.07 33.5V211.2M980.93 33.5V211.2M1009.8 33.5V211.2M1038.67 33.5V211.2M1067.54 33.5V211.2M1096.41 33.5V211.2M823.6 204.17H1109.4M823.6 188.85H1109.4M823.6 173.53H1109.4M823.6 158.21H1109.4M823.6 142.89H1109.4M823.6 127.57H1109.4M823.6 112.25H1109.4M823.6 96.93H1109.4M823.6 81.61H1109.4M823.6 66.29H1109.4M823.6 50.97H1109.4M823.6 35.65H1109.4" stroke="#E9E9E9" stroke-width="1.3" fill="none"/>
<path d="M836.59 145.95h0M836.59 96.93h0M865.46 127.57h0M871.23 155.15h0M882.78 130.63h0M888.55 182.72h0M894.33 161.27h0M900.1 155.15h0M905.88 106.12h0M911.65 182.72h0M911.65 167.4h0M911.65 164.34h0M911.65 152.08h0M911.65 149.02h0M911.65 112.25h0M917.42 176.59h0M917.42 149.02h0M917.42 136.76h0M917.42 133.7h0M923.2 130.63h0M923.2 106.12h0M928.97 198.04h0M928.97 194.98h0M928.97 185.79h0M928.97 179.66h0M928.97 173.53h0M928.97 145.95h0M928.97 142.89h0M928.97 139.83h0M928.97 136.76h0M928.97 133.7h0M928.97 127.57h0M928.97 96.93h0M928.97 93.87h0M934.74 176.59h0M934.74 173.53h0M934.74 164.34h0M934.74 115.31h0M934.74 112.25h0M934.74 109.19h0M934.74 78.55h0M940.52 188.85h0M940.52 176.59h0M940.52 161.27h0M940.52 152.08h0M940.52 149.02h0M940.52 142.89h0M940.52 133.7h0M940.52 106.12h0M940.52 96.93h0M946.29 198.04h0M946.29 179.66h0M946.29 170.47h0M946.29 161.27h0M946.29 152.08h0M946.29 149.02h0M946.29 145.95h0M946.29 136.76h0M946.29 127.57h0M946.29 115.31h0M946.29 96.93h0M946.29 75.48h0M952.07 194.98h0M952.07 182.72h0M952.07 176.59h0M952.07 164.34h0M952.07 161.27h0M952.07 158.21h0M952.07 142.89h0M952.07 139.83h0M952.07 127.57h0M952.07 118.38h0M952.07 81.61h0M957.84 182.72h0M957.84 167.4h0M957.84 161.27h0M957.84 152.08h0M957.84 142.89h0M957.84 139.83h0M957.84 136.76h0M957.84 133.7h0M957.84 124.51h0M957.84 121.44h0M957.84 115.31h0M957.84 112.25h0M957.84 109.19h0M957.84 60.16h0M963.61 176.59h0M963.61 173.53h0M963.61 164.34h0M963.61 161.27h0M963.61 145.95h0M963.61 142.89h0M963.61 139.83h0M963.61 136.76h0M963.61 130.63h0M963.61 127.57h0M963.61 118.38h0M963.61 109.19h0M963.61 81.61h0M969.39 194.98h0M969.39 191.91h0M969.39 179.66h0M969.39 176.59h0M969.39 170.47h0M969.39 164.34h0M969.39 161.27h0M969.39 130.63h0M969.39 127.57h0M969.39 124.51h0M969.39 121.44h0M969.39 115.31h0M969.39 96.93h0M969.39 93.87h0M975.16 188.85h0M975.16 173.53h0M975.16 167.4h0M975.16 164.34h0M975.16 161.27h0M975.16 158.21h0M975.16 152.08h0M975.16 149.02h0M975.16 139.83h0M975.16 133.7h0M975.16 127.57h0M975.16 121.44h0M975.16 118.38h0M975.16 99.99h0M975.16 93.87h0M975.16 75.48h0M980.93 201.11h0M980.93 182.72h0M980.93 176.59h0M980.93 167.4h0M980.93 164.34h0M980.93 161.27h0M980.93 155.15h0M980.93 152.08h0M980.93 149.02h0M980.93 139.83h0M980.93 136.76h0M980.93 130.63h0M980.93 124.51h0M980.93 121.44h0M980.93 118.38h0M980.93 115.31h0M980.93 99.99h0M980.93 63.23h0M986.71 191.91h0M986.71 182.72h0M986.71 170.47h0M986.71 167.4h0M986.71 164.34h0M986.71 161.27h0M986.71 155.15h0M986.71 149.02h0M986.71 145.95h0M986.71 139.83h0M986.71 130.63h0M986.71 124.51h0M986.71 115.31h0M986.71 112.25h0M986.71 109.19h0M986.71 106.12h0M986.71 103.06h0M986.71 90.8h0M992.48 191.91h0M992.48 188.85h0M992.48 176.59h0M992.48 173.53h0M992.48 170.47h0M992.48 167.4h0M992.48 158.21h0M992.48 155.15h0M992.48 152.08h0M992.48 149.02h0M992.48 145.95h0M992.48 142.89h0M992.48 136.76h0M992.48 133.7h0M992.48 130.63h0M992.48 127.57h0M992.48 115.31h0M992.48 109.19h0M992.48 99.99h0M992.48 90.8h0M992.48 87.74h0M992.48 84.67h0M992.48 81.61h0M992.48 72.42h0M992.48 66.29h0M998.26 191.91h0M998.26 182.72h0M998.26 179.66h0M998.26 176.59h0M998.26 173.53h0M998.26 170.47h0M998.26 167.4h0M998.26 164.34h0M998.26 161.27h0M998.26 158.21h0M998.26 152.08h0M998.26 145.95h0M998.26 136.76h0M998.26 133.7h0M998.26 127.57h0M998.26 124.51h0M998.26 121.44h0M998.26 118.38h0M998.26 109.19h0M998.26 106.12h0M998.26 99.99h0M1004.03 182.72h0M1004.03 173.53h0M1004.03 170.47h0M1004.03 167.4h0M1004.03 158.21h0M1004.03 155.15h0M1004.03 152.08h0M1004.03 149.02h0M1004.03 145.95h0M1004.03 142.89h0M1004.03 139.83h0M1004.03 136.76h0M1004.03 130.63h0M1004.03 124.51h0M1004.03 121.44h0M1004.03 118.38h0M1004.03 115.31h0M1004.03 106.12h0M1004.03 103.06h0M1004.03 78.55h0M1009.8 182.72h0M1009.8 176.59h0M1009.8 173.53h0M1009.8 167.4h0M1009.8 161.27h0M1009.8 158.21h0M1009.8 155.15h0M1009.8 152.08h0M1009.8 149.02h0M1009.8 145.95h0M1009.8 142.89h0M1009.8 139.83h0M1009.8 136.76h0M1009.8 133.7h0M1009.8 130.63h0M1009.8 127.57h0M1009.8 124.51h0M1009.8 112.25h0M1009.8 109.19h0M1009.8 106.12h0M1009.8 103.06h0M1009.8 99.99h0M1009.8 93.87h0M1009.8 90.8h0M1009.8 84.67h0M1009.8 78.55h0M1015.58 201.11h0M1015.58 185.79h0M1015.58 182.72h0M1015.58 176.59h0M1015.58 170.47h0M1015.58 167.4h0M1015.58 164.34h0M1015.58 161.27h0M1015.58 158.21h0M1015.58 155.15h0M1015.58 152.08h0M1015.58 149.02h0M1015.58 145.95h0M1015.58 142.89h0M1015.58 139.83h0M1015.58 136.76h0M1015.58 133.7h0M1015.58 127.57h0M1015.58 124.51h0M1015.58 121.44h0M1015.58 118.38h0M1015.58 106.12h0M1015.58 54.03h0M1021.35 188.85h0M1021.35 179.66h0M1021.35 170.47h0M1021.35 167.4h0M1021.35 164.34h0M1021.35 161.27h0M1021.35 158.21h0M1021.35 155.15h0M1021.35 149.02h0M1021.35 145.95h0M1021.35 142.89h0M1021.35 139.83h0M1021.35 136.76h0M1021.35 133.7h0M1021.35 130.63h0M1021.35 127.57h0M1021.35 121.44h0M1021.35 118.38h0M1021.35 115.31h0M1021.35 112.25h0M1021.35 109.19h0M1021.35 103.06h0M1021.35 96.93h0M1021.35 93.87h0M1021.35 90.8h0M1027.12 185.79h0M1027.12 179.66h0M1027.12 176.59h0M1027.12 170.47h0M1027.12 167.4h0M1027.12 164.34h0M1027.12 161.27h0M1027.12 158.21h0M1027.12 155.15h0M1027.12 152.08h0M1027.12 149.02h0M1027.12 145.95h0M1027.12 142.89h0M1027.12 139.83h0M1027.12 136.76h0M1027.12 133.7h0M1027.12 130.63h0M1027.12 127.57h0M1027.12 124.51h0M1027.12 121.44h0M1027.12 109.19h0M1027.12 106.12h0M1027.12 99.99h0M1027.12 96.93h0M1027.12 78.55h0M1032.9 185.79h0M1032.9 179.66h0M1032.9 170.47h0M1032.9 161.27h0M1032.9 158.21h0M1032.9 155.15h0M1032.9 152.08h0M1032.9 149.02h0M1032.9 145.95h0M1032.9 142.89h0M1032.9 139.83h0M1032.9 136.76h0M1032.9 130.63h0M1032.9 127.57h0M1032.9 124.51h0M1032.9 121.44h0M1032.9 118.38h0M1032.9 115.31h0M1032.9 112.25h0M1032.9 106.12h0M1032.9 99.99h0M1032.9 93.87h0M1032.9 87.74h0M1038.67 182.72h0M1038.67 176.59h0M1038.67 167.4h0M1038.67 164.34h0M1038.67 158.21h0M1038.67 155.15h0M1038.67 152.08h0M1038.67 149.02h0M1038.67 145.95h0M1038.67 142.89h0M1038.67 139.83h0M1038.67 136.76h0M1038.67 133.7h0M1038.67 124.51h0M1038.67 112.25h0M1038.67 106.12h0M1038.67 103.06h0M1038.67 99.99h0M1038.67 96.93h0M1038.67 93.87h0M1038.67 75.48h0M1038.67 72.42h0M1038.67 54.03h0M1044.45 204.17h0M1044.45 185.79h0M1044.45 179.66h0M1044.45 176.59h0M1044.45 173.53h0M1044.45 167.4h0M1044.45 164.34h0M1044.45 161.27h0M1044.45 158.21h0M1044.45 155.15h0M1044.45 152.08h0M1044.45 149.02h0M1044.45 145.95h0M1044.45 142.89h0M1044.45 139.83h0M1044.45 136.76h0M1044.45 133.7h0M1044.45 130.63h0M1044.45 124.51h0M1044.45 121.44h0M1044.45 118.38h0M1044.45 115.31h0M1044.45 106.12h0M1044.45 103.06h0M1044.45 69.35h0M1050.22 198.04h0M1050.22 188.85h0M1050.22 182.72h0M1050.22 176.59h0M1050.22 167.4h0M1050.22 158.21h0M1050.22 155.15h0M1050.22 152.08h0M1050.22 149.02h0M1050.22 145.95h0M1050.22 142.89h0M1050.22 130.63h0M1050.22 127.57h0M1050.22 121.44h0M1050.22 118.38h0M1050.22 115.31h0M1050.22 112.25h0M1050.22 109.19h0M1050.22 103.06h0M1050.22 96.93h0M1050.22 90.8h0M1050.22 78.55h0M1055.99 179.66h0M1055.99 170.47h0M1055.99 167.4h0M1055.99 164.34h0M1055.99 161.27h0M1055.99 158.21h0M1055.99 152.08h0M1055.99 130.63h0M1055.99 121.44h0M1055.99 112.25h0M1055.99 109.19h0M1055.99 103.06h0M1055.99 99.99h0M1055.99 96.93h0M1055.99 72.42h0M1061.77 191.91h0M1061.77 185.79h0M1061.77 179.66h0M1061.77 176.59h0M1061.77 173.53h0M1061.77 167.4h0M1061.77 164.34h0M1061.77 158.21h0M1061.77 155.15h0M1061.77 152.08h0M1061.77 149.02h0M1061.77 145.95h0M1061.77 142.89h0M1061.77 139.83h0M1061.77 136.76h0M1061.77 130.63h0M1061.77 124.51h0M1061.77 106.12h0M1061.77 103.06h0M1061.77 99.99h0M1061.77 93.87h0M1061.77 87.74h0M1061.77 84.67h0M1067.54 191.91h0M1067.54 188.85h0M1067.54 173.53h0M1067.54 167.4h0M1067.54 164.34h0M1067.54 158.21h0M1067.54 155.15h0M1067.54 152.08h0M1067.54 149.02h0M1067.54 145.95h0M1067.54 142.89h0M1067.54 139.83h0M1067.54 130.63h0M1067.54 127.57h0M1067.54 118.38h0M1067.54 115.31h0M1067.54 109.19h0M1067.54 103.06h0M1067.54 87.74h0M1067.54 81.61h0M1073.31 185.79h0M1073.31 179.66h0M1073.31 173.53h0M1073.31 167.4h0M1073.31 161.27h0M1073.31 158.21h0M1073.31 152.08h0M1073.31 149.02h0M1073.31 136.76h0M1073.31 133.7h0M1073.31 130.63h0M1073.31 124.51h0M1073.31 115.31h0M1073.31 109.19h0M1073.31 106.12h0M1073.31 99.99h0M1079.09 170.47h0M1079.09 155.15h0M1079.09 145.95h0M1079.09 139.83h0M1079.09 136.76h0M1079.09 133.7h0M1079.09 130.63h0M1079.09 127.57h0M1079.09 121.44h0M1079.09 103.06h0M1079.09 99.99h0M1079.09 96.93h0M1079.09 93.87h0M1079.09 72.42h0M1084.86 185.79h0M1084.86 182.72h0M1084.86 173.53h0M1084.86 170.47h0M1084.86 158.21h0M1084.86 152.08h0M1084.86 145.95h0M1084.86 139.83h0M1084.86 133.7h0M1084.86 112.25h0M1084.86 109.19h0M1084.86 84.67h0M1084.86 69.35h0M1090.64 185.79h0M1090.64 167.4h0M1090.64 158.21h0M1090.64 149.02h0M1090.64 142.89h0M1090.64 124.51h0M1090.64 118.38h0M1090.64 115.31h0M1090.64 99.99h0M1090.64 93.87h0M1096.41 191.91h0M1096.41 188.85h0M1096.41 182.72h0M1096.41 170.47h0M1096.41 167.4h0M1096.41 161.27h0M1096.41 158.21h0M1096.41 155.15h0M1096.41 149.02h0M1096.41 145.95h0M1096.41 142.89h0M1096.41 133.7h0M1096.41 127.57h0M1096.41 124.51h0M1096.41 121.44h0M1096.41 118.38h0M1096.41 112.25h0M1096.41 96.93h0M1096.41 50.97h0M1096.41 41.78h0" stroke="#868686" stroke-width="3.1" stroke-linecap="round" fill="none" clip-path="url(#c2)"/>
<path d="M836.59 136.92L843.09 137.01L849.58 137.11L856.08 137.21L862.57 137.31L869.07 137.41L875.56 137.5L882.06 137.6L888.55 137.69L895.05 137.79L901.55 137.88L908.04 137.97L914.54 138.06L921.03 138.14L927.53 138.23L934.02 138.31L940.52 138.39L947.01 138.46L953.51 138.53L960 138.59L966.5 138.65L973 138.7L979.49 138.73L985.99 138.75L992.48 138.75L998.98 138.72L1005.47 138.66L1011.97 138.55L1018.46 138.39L1024.96 138.18L1031.45 137.9L1037.95 137.57L1044.45 137.19L1050.94 136.77L1057.44 136.32L1063.93 135.84L1070.43 135.35L1076.92 134.83L1083.42 134.31L1089.91 133.78L1096.41 133.24L1096.41 141.82L1089.91 141.75L1083.42 141.7L1076.92 141.65L1070.43 141.61L1063.93 141.59L1057.44 141.58L1050.94 141.61L1044.45 141.66L1037.95 141.76L1031.45 141.9L1024.96 142.1L1018.46 142.36L1011.97 142.68L1005.47 143.05L998.98 143.46L992.48 143.91L985.99 144.38L979.49 144.88L973 145.38L966.5 145.9L960 146.44L953.51 146.97L947.01 147.52L940.52 148.07L934.02 148.62L927.53 149.18L921.03 149.74L914.54 150.3L908.04 150.86L901.55 151.43L895.05 151.99L888.55 152.56L882.06 153.13L875.56 153.7L869.07 154.27L862.57 154.85L856.08 155.42L849.58 155.99L843.09 156.56L836.59 157.14Z" fill="#999999" fill-opacity="0.4" clip-path="url(#c2)"/>
<path d="M836.59 133.39L840.92 134.19L845.25 134.96L849.58 135.69L853.91 136.39L858.24 137.04L862.57 137.67L866.9 138.27L871.23 138.83L875.56 139.36L879.89 139.84L884.22 140.27L888.55 140.67L892.88 141.05L897.22 141.4L901.55 141.73L905.88 142.04L910.21 142.38L914.54 142.76L918.87 143.11L923.2 143.4L927.53 143.56L931.86 143.54L936.19 143.41L940.52 143.29L944.85 143.15L949.18 143.02L953.51 142.89L957.84 142.76L962.17 142.62L966.5 142.48L970.83 142.34L975.16 142.2L979.49 142.07L983.82 141.92L988.15 141.78L992.48 141.64L996.81 141.5L1001.14 141.35L1005.47 141.2L1009.8 141.06L1014.13 140.91L1018.46 140.76L1022.79 140.61L1027.12 140.46L1031.45 140.31L1035.78 140.16L1040.12 140.01L1044.45 139.86L1048.78 139.7L1053.11 139.55L1057.44 139.4L1061.77 139.24L1066.1 139.09L1070.43 138.93L1074.76 138.78L1079.09 138.62L1083.42 138.46L1087.75 138.3L1092.08 138.15L1096.41 137.99" stroke="#000" stroke-width="1" stroke-dasharray="4.5,4.7" fill="none" clip-path="url(#c2)"/>
<path d="M836.59 147.03L1096.41 137.53" stroke="#000" stroke-width="1" fill="none" clip-path="url(#c2)"/>
<rect x="823.5" y="33.5" width="286" height="178" fill="none" stroke="#333333" stroke-width="1.1"/>
<path d="M836.59 211.2v4.3M865.46 211.2v4.3M894.33 211.2v4.3M923.2 211.2v4.3M952.07 211.2v4.3M980.93 211.2v4.3M1009.8 211.2v4.3M1038.67 211.2v4.3M1067.54 211.2v4.3M1096.41 211.2v4.3M823.6 204.17h-4.3M823.6 188.85h-4.3M823.6 173.53h-4.3M823.6 158.21h-4.3M823.6 142.89h-4.3M823.6 127.57h-4.3M823.6 112.25h-4.3M823.6 96.93h-4.3M823.6 81.61h-4.3M823.6 66.29h-4.3M823.6 50.97h-4.3M823.6 35.65h-4.3" stroke="#333333" stroke-width="1.45" fill="none"/>
<text x="836.59" y="229.3" text-anchor="middle" font-size="15.3" fill="#4D4D4D">1</text>
<text x="865.46" y="229.3" text-anchor="middle" font-size="15.3" fill="#4D4D4D">2</text>
<text x="894.33" y="229.3" text-anchor="middle" font-size="15.3" fill="#4D4D4D">3</text>
<text x="923.2" y="229.3" text-anchor="middle" font-size="15.3" fill="#4D4D4D">4</text>
<text x="952.07" y="229.3" text-anchor="middle" font-size="15.3" fill="#4D4D4D">5</text>
<text x="980.93" y="229.3" text-anchor="middle" font-size="15.3" fill="#4D4D4D">6</text>
<text x="1009.8" y="229.3" text-anchor="middle" font-size="15.3" fill="#4D4D4D">7</text>
<text x="1038.67" y="229.3" text-anchor="middle" font-size="15.3" fill="#4D4D4D">8</text>
<text x="1067.54" y="229.3" text-anchor="middle" font-size="15.3" fill="#4D4D4D">9</text>
<text x="1096.41" y="229.3" text-anchor="middle" font-size="15.3" fill="#4D4D4D">10</text>
<text x="815.6" y="209.37" text-anchor="end" font-size="15.3" fill="#4D4D4D">20</text>
<text x="815.6" y="194.05" text-anchor="end" font-size="15.3" fill="#4D4D4D">25</text>
<text x="815.6" y="178.73" text-anchor="end" font-size="15.3" fill="#4D4D4D">30</text>
<text x="815.6" y="163.41" text-anchor="end" font-size="15.3" fill="#4D4D4D">35</text>
<text x="815.6" y="148.09" text-anchor="end" font-size="15.3" fill="#4D4D4D">40</text>
<text x="815.6" y="132.77" text-anchor="end" font-size="15.3" fill="#4D4D4D">45</text>
<text x="815.6" y="117.45" text-anchor="end" font-size="15.3" fill="#4D4D4D">50</text>
<text x="815.6" y="102.13" text-anchor="end" font-size="15.3" fill="#4D4D4D">55</text>
<text x="815.6" y="86.81" text-anchor="end" font-size="15.3" fill="#4D4D4D">60</text>
<text x="815.6" y="71.49" text-anchor="end" font-size="15.3" fill="#4D4D4D">65</text>
<text x="815.6" y="56.17" text-anchor="end" font-size="15.3" fill="#4D4D4D">70</text>
<text x="815.6" y="40.85" text-anchor="end" font-size="15.3" fill="#4D4D4D">75</text>
<text x="970.7" y="249" text-anchor="middle" font-size="18.1" fill="#000">Автономия /</text>
<text x="966.5" y="268.6" text-anchor="middle" font-size="18.1" fill="#000">Autonomy</text>
<text transform="translate(774,118.15) rotate(-90)" text-anchor="middle" font-size="18.1" fill="#000">Депрессивность /</text>
<text transform="translate(793.6,122.35) rotate(-90)" text-anchor="middle" font-size="17.62" fill="#000">Depressiveness</text>
</g>
<g>
<clipPath id="c3"><rect x="93.5" y="289.5" width="285.8" height="177.7"/></clipPath>
<path d="M120.93 289.5V467.2M149.79 289.5V467.2M178.66 289.5V467.2M207.53 289.5V467.2M236.4 289.5V467.2M265.27 289.5V467.2M294.14 289.5V467.2M323.01 289.5V467.2M351.87 289.5V467.2M93.5 452.16H379.3M93.5 436.84H379.3M93.5 421.52H379.3M93.5 406.2H379.3M93.5 390.88H379.3M93.5 375.56H379.3M93.5 360.24H379.3M93.5 344.92H379.3M93.5 329.6H379.3M93.5 314.28H379.3M93.5 298.96H379.3" stroke="#E9E9E9" stroke-width="0.95" fill="none"/>
<path d="M106.49 289.5V467.2M135.36 289.5V467.2M164.23 289.5V467.2M193.1 289.5V467.2M221.97 289.5V467.2M250.83 289.5V467.2M279.7 289.5V467.2M308.57 289.5V467.2M337.44 289.5V467.2M366.31 289.5V467.2M93.5 459.82H379.3M93.5 444.5H379.3M93.5 429.18H379.3M93.5 413.86H379.3M93.5 398.54H379.3M93.5 383.22H379.3M93.5 367.9H379.3M93.5 352.58H379.3M93.5 337.26H379.3M93.5 321.94H379.3M93.5 306.62H379.3M93.5 291.3H379.3" stroke="#E9E9E9" stroke-width="1.3" fill="none"/>
<path d="M106.49 423.05h0M106.49 340.32h0M115.15 352.58h0M126.7 435.31h0M144.02 401.6h0M164.23 334.2h0M172.89 361.77h0M184.44 410.8h0M193.1 404.67h0M193.1 398.54h0M201.76 429.18h0M201.76 426.12h0M201.76 410.8h0M201.76 380.16h0M201.76 374.03h0M213.31 441.44h0M213.31 404.67h0M221.97 444.5h0M221.97 429.18h0M221.97 419.99h0M221.97 398.54h0M221.97 370.96h0M221.97 315.81h0M230.63 447.56h0M230.63 438.37h0M230.63 419.99h0M230.63 416.92h0M230.63 413.86h0M230.63 401.6h0M230.63 398.54h0M230.63 395.48h0M230.63 392.41h0M230.63 389.35h0M230.63 358.71h0M230.63 352.58h0M230.63 346.45h0M242.17 423.05h0M242.17 416.92h0M242.17 413.86h0M242.17 395.48h0M242.17 386.28h0M242.17 377.09h0M242.17 370.96h0M242.17 367.9h0M242.17 364.84h0M242.17 309.68h0M250.83 447.56h0M250.83 435.31h0M250.83 423.05h0M250.83 419.99h0M250.83 416.92h0M250.83 407.73h0M250.83 404.67h0M250.83 401.6h0M250.83 398.54h0M250.83 395.48h0M250.83 392.41h0M250.83 386.28h0M250.83 383.22h0M250.83 377.09h0M250.83 370.96h0M250.83 364.84h0M250.83 355.64h0M250.83 340.32h0M259.49 441.44h0M259.49 432.24h0M259.49 429.18h0M259.49 426.12h0M259.49 423.05h0M259.49 419.99h0M259.49 413.86h0M259.49 410.8h0M259.49 407.73h0M259.49 401.6h0M259.49 398.54h0M259.49 395.48h0M259.49 392.41h0M259.49 389.35h0M259.49 386.28h0M259.49 377.09h0M259.49 367.9h0M259.49 364.84h0M259.49 361.77h0M259.49 358.71h0M259.49 334.2h0M271.04 435.31h0M271.04 429.18h0M271.04 423.05h0M271.04 419.99h0M271.04 401.6h0M271.04 398.54h0M271.04 395.48h0M271.04 392.41h0M271.04 389.35h0M271.04 380.16h0M271.04 377.09h0M271.04 374.03h0M271.04 370.96h0M271.04 361.77h0M271.04 358.71h0M271.04 355.64h0M271.04 349.52h0M279.7 423.05h0M279.7 419.99h0M279.7 416.92h0M279.7 407.73h0M279.7 404.67h0M279.7 401.6h0M279.7 398.54h0M279.7 395.48h0M279.7 392.41h0M279.7 389.35h0M279.7 386.28h0M279.7 383.22h0M279.7 380.16h0M279.7 374.03h0M279.7 370.96h0M279.7 364.84h0M279.7 358.71h0M279.7 349.52h0M279.7 334.2h0M288.36 444.5h0M288.36 438.37h0M288.36 435.31h0M288.36 432.24h0M288.36 416.92h0M288.36 413.86h0M288.36 410.8h0M288.36 407.73h0M288.36 404.67h0M288.36 401.6h0M288.36 398.54h0M288.36 395.48h0M288.36 389.35h0M288.36 386.28h0M288.36 383.22h0M288.36 377.09h0M288.36 374.03h0M288.36 370.96h0M288.36 364.84h0M288.36 361.77h0M288.36 358.71h0M288.36 352.58h0M288.36 346.45h0M299.91 447.56h0M299.91 435.31h0M299.91 432.24h0M299.91 429.18h0M299.91 423.05h0M299.91 419.99h0M299.91 416.92h0M299.91 410.8h0M299.91 407.73h0M299.91 404.67h0M299.91 401.6h0M299.91 398.54h0M299.91 395.48h0M299.91 392.41h0M299.91 389.35h0M299.91 386.28h0M299.91 383.22h0M299.91 380.16h0M299.91 377.09h0M299.91 370.96h0M299.91 364.84h0M299.91 361.77h0M299.91 358.71h0M299.91 355.64h0M299.91 331.13h0M308.57 432.24h0M308.57 429.18h0M308.57 426.12h0M308.57 423.05h0M308.57 419.99h0M308.57 416.92h0M308.57 413.86h0M308.57 410.8h0M308.57 407.73h0M308.57 404.67h0M308.57 401.6h0M308.57 398.54h0M308.57 395.48h0M308.57 392.41h0M308.57 389.35h0M308.57 380.16h0M308.57 377.09h0M308.57 374.03h0M308.57 367.9h0M308.57 364.84h0M308.57 358.71h0M308.57 355.64h0M308.57 352.58h0M308.57 349.52h0M308.57 346.45h0M308.57 340.32h0M308.57 337.26h0M308.57 334.2h0M308.57 331.13h0M308.57 328.07h0M308.57 325h0M317.23 456.76h0M317.23 453.69h0M317.23 447.56h0M317.23 438.37h0M317.23 432.24h0M317.23 429.18h0M317.23 426.12h0M317.23 423.05h0M317.23 419.99h0M317.23 416.92h0M317.23 413.86h0M317.23 410.8h0M317.23 407.73h0M317.23 404.67h0M317.23 401.6h0M317.23 398.54h0M317.23 395.48h0M317.23 392.41h0M317.23 389.35h0M317.23 386.28h0M317.23 383.22h0M317.23 380.16h0M317.23 377.09h0M317.23 374.03h0M317.23 367.9h0M317.23 361.77h0M317.23 358.71h0M317.23 355.64h0M317.23 349.52h0M317.23 346.45h0M317.23 334.2h0M317.23 328.07h0M317.23 309.68h0M328.78 456.76h0M328.78 453.69h0M328.78 444.5h0M328.78 438.37h0M328.78 435.31h0M328.78 432.24h0M328.78 429.18h0M328.78 426.12h0M328.78 423.05h0M328.78 419.99h0M328.78 416.92h0M328.78 413.86h0M328.78 410.8h0M328.78 407.73h0M328.78 404.67h0M328.78 401.6h0M328.78 398.54h0M328.78 395.48h0M328.78 392.41h0M328.78 389.35h0M328.78 386.28h0M328.78 383.22h0M328.78 380.16h0M328.78 377.09h0M328.78 370.96h0M328.78 367.9h0M328.78 364.84h0M328.78 361.77h0M328.78 355.64h0M328.78 352.58h0M328.78 349.52h0M328.78 337.26h0M328.78 321.94h0M337.44 447.56h0M337.44 444.5h0M337.44 441.44h0M337.44 438.37h0M337.44 435.31h0M337.44 429.18h0M337.44 426.12h0M337.44 423.05h0M337.44 416.92h0M337.44 413.86h0M337.44 410.8h0M337.44 407.73h0M337.44 404.67h0M337.44 401.6h0M337.44 398.54h0M337.44 395.48h0M337.44 392.41h0M337.44 389.35h0M337.44 386.28h0M337.44 383.22h0M337.44 380.16h0M337.44 377.09h0M337.44 374.03h0M337.44 370.96h0M337.44 367.9h0M337.44 364.84h0M337.44 358.71h0M337.44 355.64h0M337.44 352.58h0M337.44 349.52h0M346.1 450.63h0M346.1 444.5h0M346.1 441.44h0M346.1 438.37h0M346.1 432.24h0M346.1 426.12h0M346.1 423.05h0M346.1 419.99h0M346.1 416.92h0M346.1 413.86h0M346.1 410.8h0M346.1 407.73h0M346.1 404.67h0M346.1 401.6h0M346.1 398.54h0M346.1 395.48h0M346.1 392.41h0M346.1 386.28h0M346.1 383.22h0M346.1 380.16h0M346.1 377.09h0M346.1 374.03h0M346.1 370.96h0M346.1 364.84h0M346.1 361.77h0M346.1 358.71h0M346.1 352.58h0M346.1 346.45h0M346.1 343.39h0M346.1 340.32h0M346.1 337.26h0M346.1 318.88h0M357.65 453.69h0M357.65 444.5h0M357.65 438.37h0M357.65 432.24h0M357.65 426.12h0M357.65 423.05h0M357.65 419.99h0M357.65 416.92h0M357.65 413.86h0M357.65 410.8h0M357.65 407.73h0M357.65 404.67h0M357.65 401.6h0M357.65 398.54h0M357.65 395.48h0M357.65 392.41h0M357.65 389.35h0M357.65 386.28h0M357.65 383.22h0M357.65 380.16h0M357.65 377.09h0M357.65 374.03h0M357.65 370.96h0M357.65 367.9h0M357.65 364.84h0M357.65 361.77h0M357.65 358.71h0M357.65 355.64h0M357.65 352.58h0M357.65 328.07h0M366.31 459.82h0M366.31 450.63h0M366.31 447.56h0M366.31 444.5h0M366.31 441.44h0M366.31 438.37h0M366.31 435.31h0M366.31 432.24h0M366.31 429.18h0M366.31 426.12h0M366.31 423.05h0M366.31 419.99h0M366.31 416.92h0M366.31 413.86h0M366.31 410.8h0M366.31 407.73h0M366.31 404.67h0M366.31 401.6h0M366.31 398.54h0M366.31 395.48h0M366.31 392.41h0M366.31 389.35h0M366.31 386.28h0M366.31 383.22h0M366.31 380.16h0M366.31 377.09h0M366.31 374.03h0M366.31 370.96h0M366.31 367.9h0M366.31 364.84h0M366.31 361.77h0M366.31 355.64h0M366.31 352.58h0M366.31 349.52h0M366.31 343.39h0M366.31 340.32h0M366.31 337.26h0M366.31 331.13h0M366.31 328.07h0M366.31 325h0M366.31 306.62h0M366.31 297.43h0" stroke="#868686" stroke-width="3.1" stroke-linecap="round" fill="none" clip-path="url(#c3)"/>
<path d="M106.49 373.87L112.99 374.53L119.48 375.19L125.98 375.85L132.47 376.51L138.97 377.17L145.46 377.82L151.96 378.48L158.45 379.14L164.95 379.8L171.45 380.46L177.94 381.11L184.44 381.77L190.93 382.43L197.43 383.08L203.92 383.74L210.42 384.39L216.91 385.05L223.41 385.7L229.9 386.35L236.4 387.01L242.9 387.66L249.39 388.31L255.89 388.95L262.38 389.6L268.88 390.24L275.37 390.88L281.87 391.51L288.36 392.14L294.86 392.76L301.35 393.36L307.85 393.95L314.35 394.5L320.84 395L327.34 395.43L333.83 395.77L340.33 396.01L346.82 396.17L353.32 396.28L359.81 396.35L366.31 396.4L366.31 400.68L359.81 400.09L353.32 399.51L346.82 398.98L340.33 398.49L333.83 398.09L327.34 397.79L320.84 397.57L314.35 397.43L307.85 397.34L301.35 397.28L294.86 397.24L288.36 397.22L281.87 397.2L275.37 397.19L268.88 397.19L262.38 397.19L255.89 397.19L249.39 397.19L242.9 397.2L236.4 397.2L229.9 397.21L223.41 397.22L216.91 397.23L210.42 397.24L203.92 397.26L197.43 397.27L190.93 397.28L184.44 397.29L177.94 397.31L171.45 397.32L164.95 397.34L158.45 397.35L151.96 397.36L145.46 397.38L138.97 397.39L132.47 397.41L125.98 397.42L119.48 397.44L112.99 397.45L106.49 397.47Z" fill="#999999" fill-opacity="0.4" clip-path="url(#c3)"/>
<path d="M106.49 383.22L110.82 384L115.15 384.76L119.48 385.5L123.81 386.22L128.14 386.92L132.47 387.59L136.8 388.24L141.13 388.91L145.46 389.6L149.79 390.26L154.12 390.88L158.45 391.4L162.78 391.8L167.12 392.08L171.45 392.35L175.78 392.61L180.11 392.87L184.44 393.12L188.77 393.36L193.1 393.6L197.43 393.83L201.76 394.06L206.09 394.28L210.42 394.47L214.75 394.58L219.08 394.6L223.41 394.57L227.74 394.49L232.07 394.39L236.4 394.27L240.73 394.17L245.06 394.09L249.39 394.05L253.72 394.04L258.05 394.02L262.38 393.99L266.71 393.97L271.04 394L275.37 394.08L279.7 394.25L284.03 394.46L288.36 394.68L292.69 394.89L297.02 395.11L301.35 395.33L305.68 395.55L310.02 395.76L314.35 395.98L318.68 396.21L323.01 396.43L327.34 396.66L331.67 396.89L336 397.12L340.33 397.36L344.66 397.6L348.99 397.84L353.32 398.08L357.65 398.33L361.98 398.59L366.31 398.85" stroke="#000" stroke-width="1" stroke-dasharray="4.5,4.7" fill="none" clip-path="url(#c3)"/>
<path d="M106.49 385.67L366.31 398.54" stroke="#000" stroke-width="1" fill="none" clip-path="url(#c3)"/>
<rect x="93.5" y="289.5" width="286" height="178" fill="none" stroke="#333333" stroke-width="1.1"/>
<path d="M106.49 467.2v4.3M135.36 467.2v4.3M164.23 467.2v4.3M193.1 467.2v4.3M221.97 467.2v4.3M250.83 467.2v4.3M279.7 467.2v4.3M308.57 467.2v4.3M337.44 467.2v4.3M366.31 467.2v4.3M93.5 459.82h-4.3M93.5 444.5h-4.3M93.5 429.18h-4.3M93.5 413.86h-4.3M93.5 398.54h-4.3M93.5 383.22h-4.3M93.5 367.9h-4.3M93.5 352.58h-4.3M93.5 337.26h-4.3M93.5 321.94h-4.3M93.5 306.62h-4.3M93.5 291.3h-4.3" stroke="#333333" stroke-width="1.45" fill="none"/>
<text x="106.49" y="484.6" text-anchor="middle" font-size="15.3" fill="#4D4D4D">1</text>
<text x="135.36" y="484.6" text-anchor="middle" font-size="15.3" fill="#4D4D4D">2</text>
<text x="164.23" y="484.6" text-anchor="middle" font-size="15.3" fill="#4D4D4D">3</text>
<text x="193.1" y="484.6" text-anchor="middle" font-size="15.3" fill="#4D4D4D">4</text>
<text x="221.97" y="484.6" text-anchor="middle" font-size="15.3" fill="#4D4D4D">5</text>
<text x="250.83" y="484.6" text-anchor="middle" font-size="15.3" fill="#4D4D4D">6</text>
<text x="279.7" y="484.6" text-anchor="middle" font-size="15.3" fill="#4D4D4D">7</text>
<text x="308.57" y="484.6" text-anchor="middle" font-size="15.3" fill="#4D4D4D">8</text>
<text x="337.44" y="484.6" text-anchor="middle" font-size="15.3" fill="#4D4D4D">9</text>
<text x="366.31" y="484.6" text-anchor="middle" font-size="15.3" fill="#4D4D4D">10</text>
<text x="85.5" y="465.02" text-anchor="end" font-size="15.3" fill="#4D4D4D">20</text>
<text x="85.5" y="449.7" text-anchor="end" font-size="15.3" fill="#4D4D4D">25</text>
<text x="85.5" y="434.38" text-anchor="end" font-size="15.3" fill="#4D4D4D">30</text>
<text x="85.5" y="419.06" text-anchor="end" font-size="15.3" fill="#4D4D4D">35</text>
<text x="85.5" y="403.74" text-anchor="end" font-size="15.3" fill="#4D4D4D">40</text>
<text x="85.5" y="388.42" text-anchor="end" font-size="15.3" fill="#4D4D4D">45</text>
<text x="85.5" y="373.1" text-anchor="end" font-size="15.3" fill="#4D4D4D">50</text>
<text x="85.5" y="357.78" text-anchor="end" font-size="15.3" fill="#4D4D4D">55</text>
<text x="85.5" y="342.46" text-anchor="end" font-size="15.3" fill="#4D4D4D">60</text>
<text x="85.5" y="327.14" text-anchor="end" font-size="15.3" fill="#4D4D4D">65</text>
<text x="85.5" y="311.82" text-anchor="end" font-size="15.3" fill="#4D4D4D">70</text>
<text x="85.5" y="296.5" text-anchor="end" font-size="15.3" fill="#4D4D4D">75</text>
<text x="240.6" y="504.3" text-anchor="middle" font-size="18.1" fill="#000">Стабильность места работы /</text>
<text x="236.4" y="523.9" text-anchor="middle" font-size="18.1" fill="#000">Stability in the workplace</text>
<text transform="translate(43.9,374.15) rotate(-90)" text-anchor="middle" font-size="18.1" fill="#000">Депрессивность /</text>
<text transform="translate(63.5,378.35) rotate(-90)" text-anchor="middle" font-size="17.62" fill="#000">Depressiveness</text>
</g>
<g>
<clipPath id="c4"><rect x="458.5" y="289.5" width="285.8" height="177.7"/></clipPath>
<path d="M485.93 289.5V467.2M514.79 289.5V467.2M543.66 289.5V467.2M572.53 289.5V467.2M601.4 289.5V467.2M630.27 289.5V467.2M659.14 289.5V467.2M688.01 289.5V467.2M716.87 289.5V467.2M458.5 452.16H744.3M458.5 436.84H744.3M458.5 421.52H744.3M458.5 406.2H744.3M458.5 390.88H744.3M458.5 375.56H744.3M458.5 360.24H744.3M458.5 344.92H744.3M458.5 329.6H744.3M458.5 314.28H744.3M458.5 298.96H744.3" stroke="#E9E9E9" stroke-width="0.95" fill="none"/>
<path d="M471.49 289.5V467.2M500.36 289.5V467.2M529.23 289.5V467.2M558.1 289.5V467.2M586.97 289.5V467.2M615.83 289.5V467.2M644.7 289.5V467.2M673.57 289.5V467.2M702.44 289.5V467.2M731.31 289.5V467.2M458.5 459.82H744.3M458.5 444.5H744.3M458.5 429.18H744.3M458.5 413.86H744.3M458.5 398.54H744.3M458.5 383.22H744.3M458.5 367.9H744.3M458.5 352.58H744.3M458.5 337.26H744.3M458.5 321.94H744.3M458.5 306.62H744.3M458.5 291.3H744.3" stroke="#E9E9E9" stroke-width="1.3" fill="none"/>
<path d="M471.49 447.56h0M471.49 444.5h0M471.49 438.37h0M471.49 426.12h0M471.49 419.99h0M471.49 416.92h0M471.49 410.8h0M471.49 407.73h0M471.49 404.67h0M471.49 401.6h0M471.49 398.54h0M471.49 395.48h0M471.49 386.28h0M471.49 383.22h0M471.49 380.16h0M471.49 377.09h0M471.49 370.96h0M471.49 364.84h0M471.49 361.77h0M471.49 358.71h0M471.49 355.64h0M480.15 441.44h0M480.15 429.18h0M480.15 423.05h0M480.15 410.8h0M480.15 404.67h0M480.15 401.6h0M480.15 398.54h0M480.15 395.48h0M480.15 377.09h0M480.15 374.03h0M480.15 358.71h0M480.15 355.64h0M480.15 352.58h0M491.7 447.56h0M491.7 432.24h0M491.7 426.12h0M491.7 423.05h0M491.7 419.99h0M491.7 413.86h0M491.7 410.8h0M491.7 407.73h0M491.7 404.67h0M491.7 401.6h0M491.7 398.54h0M491.7 395.48h0M491.7 380.16h0M491.7 377.09h0M491.7 367.9h0M491.7 364.84h0M491.7 355.64h0M491.7 343.39h0M491.7 331.13h0M491.7 297.43h0M500.36 450.63h0M500.36 438.37h0M500.36 435.31h0M500.36 432.24h0M500.36 423.05h0M500.36 407.73h0M500.36 401.6h0M500.36 392.41h0M500.36 389.35h0M500.36 386.28h0M500.36 383.22h0M500.36 380.16h0M500.36 364.84h0M500.36 361.77h0M500.36 355.64h0M500.36 334.2h0M509.02 438.37h0M509.02 435.31h0M509.02 429.18h0M509.02 426.12h0M509.02 423.05h0M509.02 419.99h0M509.02 416.92h0M509.02 413.86h0M509.02 410.8h0M509.02 407.73h0M509.02 395.48h0M509.02 389.35h0M509.02 386.28h0M509.02 383.22h0M509.02 374.03h0M509.02 370.96h0M509.02 361.77h0M509.02 355.64h0M520.57 441.44h0M520.57 438.37h0M520.57 435.31h0M520.57 423.05h0M520.57 419.99h0M520.57 416.92h0M520.57 410.8h0M520.57 407.73h0M520.57 404.67h0M520.57 401.6h0M520.57 395.48h0M520.57 392.41h0M520.57 389.35h0M520.57 386.28h0M520.57 370.96h0M520.57 367.9h0M520.57 358.71h0M520.57 349.52h0M520.57 343.39h0M520.57 331.13h0M529.23 453.69h0M529.23 444.5h0M529.23 435.31h0M529.23 432.24h0M529.23 429.18h0M529.23 423.05h0M529.23 419.99h0M529.23 416.92h0M529.23 413.86h0M529.23 404.67h0M529.23 401.6h0M529.23 386.28h0M529.23 370.96h0M529.23 358.71h0M529.23 352.58h0M529.23 349.52h0M529.23 328.07h0M537.89 459.82h0M537.89 453.69h0M537.89 444.5h0M537.89 438.37h0M537.89 435.31h0M537.89 432.24h0M537.89 426.12h0M537.89 423.05h0M537.89 416.92h0M537.89 413.86h0M537.89 410.8h0M537.89 407.73h0M537.89 404.67h0M537.89 401.6h0M537.89 398.54h0M537.89 395.48h0M537.89 392.41h0M537.89 389.35h0M537.89 386.28h0M537.89 383.22h0M537.89 380.16h0M537.89 377.09h0M537.89 374.03h0M537.89 364.84h0M537.89 355.64h0M537.89 352.58h0M537.89 349.52h0M537.89 334.2h0M549.44 432.24h0M549.44 429.18h0M549.44 426.12h0M549.44 416.92h0M549.44 410.8h0M549.44 404.67h0M549.44 401.6h0M549.44 392.41h0M549.44 389.35h0M549.44 386.28h0M549.44 383.22h0M549.44 380.16h0M549.44 374.03h0M549.44 358.71h0M549.44 355.64h0M549.44 352.58h0M549.44 349.52h0M549.44 346.45h0M549.44 334.2h0M558.1 456.76h0M558.1 444.5h0M558.1 441.44h0M558.1 438.37h0M558.1 432.24h0M558.1 429.18h0M558.1 426.12h0M558.1 423.05h0M558.1 416.92h0M558.1 413.86h0M558.1 410.8h0M558.1 407.73h0M558.1 404.67h0M558.1 401.6h0M558.1 398.54h0M558.1 395.48h0M558.1 392.41h0M558.1 389.35h0M558.1 386.28h0M558.1 383.22h0M558.1 380.16h0M558.1 377.09h0M558.1 370.96h0M558.1 367.9h0M558.1 361.77h0M558.1 358.71h0M558.1 355.64h0M558.1 346.45h0M558.1 337.26h0M558.1 309.68h0M566.76 447.56h0M566.76 444.5h0M566.76 438.37h0M566.76 435.31h0M566.76 429.18h0M566.76 426.12h0M566.76 419.99h0M566.76 416.92h0M566.76 413.86h0M566.76 410.8h0M566.76 407.73h0M566.76 404.67h0M566.76 401.6h0M566.76 398.54h0M566.76 395.48h0M566.76 392.41h0M566.76 389.35h0M566.76 386.28h0M566.76 383.22h0M566.76 380.16h0M566.76 377.09h0M566.76 374.03h0M566.76 367.9h0M566.76 361.77h0M566.76 358.71h0M566.76 352.58h0M566.76 349.52h0M566.76 337.26h0M566.76 328.07h0M566.76 306.62h0M578.31 438.37h0M578.31 423.05h0M578.31 419.99h0M578.31 410.8h0M578.31 407.73h0M578.31 404.67h0M578.31 401.6h0M578.31 392.41h0M578.31 389.35h0M578.31 386.28h0M578.31 383.22h0M578.31 380.16h0M578.31 377.09h0M578.31 374.03h0M578.31 370.96h0M578.31 364.84h0M578.31 358.71h0M578.31 355.64h0M578.31 349.52h0M578.31 346.45h0M578.31 340.32h0M578.31 334.2h0M578.31 328.07h0M586.97 438.37h0M586.97 435.31h0M586.97 432.24h0M586.97 429.18h0M586.97 426.12h0M586.97 423.05h0M586.97 419.99h0M586.97 416.92h0M586.97 407.73h0M586.97 404.67h0M586.97 398.54h0M586.97 395.48h0M586.97 392.41h0M586.97 389.35h0M586.97 386.28h0M586.97 383.22h0M586.97 380.16h0M586.97 377.09h0M586.97 315.81h0M586.97 309.68h0M595.63 447.56h0M595.63 441.44h0M595.63 432.24h0M595.63 423.05h0M595.63 419.99h0M595.63 416.92h0M595.63 413.86h0M595.63 410.8h0M595.63 407.73h0M595.63 404.67h0M595.63 401.6h0M595.63 398.54h0M595.63 395.48h0M595.63 392.41h0M595.63 389.35h0M595.63 386.28h0M595.63 383.22h0M595.63 380.16h0M595.63 377.09h0M595.63 370.96h0M595.63 367.9h0M595.63 364.84h0M595.63 361.77h0M595.63 352.58h0M595.63 349.52h0M595.63 346.45h0M595.63 337.26h0M595.63 318.88h0M607.17 456.76h0M607.17 447.56h0M607.17 444.5h0M607.17 432.24h0M607.17 429.18h0M607.17 426.12h0M607.17 419.99h0M607.17 413.86h0M607.17 410.8h0M607.17 407.73h0M607.17 404.67h0M607.17 401.6h0M607.17 398.54h0M607.17 389.35h0M607.17 386.28h0M607.17 383.22h0M607.17 380.16h0M607.17 377.09h0M607.17 374.03h0M607.17 367.9h0M607.17 364.84h0M607.17 361.77h0M607.17 355.64h0M607.17 346.45h0M607.17 343.39h0M607.17 334.2h0M615.83 450.63h0M615.83 441.44h0M615.83 438.37h0M615.83 429.18h0M615.83 426.12h0M615.83 423.05h0M615.83 419.99h0M615.83 413.86h0M615.83 407.73h0M615.83 401.6h0M615.83 392.41h0M615.83 389.35h0M615.83 383.22h0M615.83 380.16h0M615.83 377.09h0M615.83 370.96h0M615.83 364.84h0M615.83 361.77h0M615.83 358.71h0M624.49 438.37h0M624.49 429.18h0M624.49 426.12h0M624.49 419.99h0M624.49 416.92h0M624.49 413.86h0M624.49 410.8h0M624.49 404.67h0M624.49 401.6h0M624.49 398.54h0M624.49 395.48h0M624.49 392.41h0M624.49 389.35h0M624.49 386.28h0M624.49 380.16h0M624.49 377.09h0M624.49 374.03h0M624.49 370.96h0M624.49 367.9h0M624.49 358.71h0M624.49 355.64h0M624.49 352.58h0M624.49 349.52h0M624.49 328.07h0M636.04 444.5h0M636.04 435.31h0M636.04 429.18h0M636.04 426.12h0M636.04 423.05h0M636.04 419.99h0M636.04 416.92h0M636.04 410.8h0M636.04 407.73h0M636.04 404.67h0M636.04 398.54h0M636.04 395.48h0M636.04 386.28h0M636.04 380.16h0M636.04 377.09h0M636.04 374.03h0M636.04 370.96h0M636.04 364.84h0M636.04 340.32h0M636.04 331.13h0M644.7 450.63h0M644.7 441.44h0M644.7 426.12h0M644.7 423.05h0M644.7 419.99h0M644.7 416.92h0M644.7 407.73h0M644.7 404.67h0M644.7 398.54h0M644.7 392.41h0M644.7 389.35h0M644.7 386.28h0M644.7 383.22h0M644.7 380.16h0M644.7 377.09h0M644.7 374.03h0M644.7 361.77h0M644.7 358.71h0M644.7 355.64h0M644.7 352.58h0M644.7 340.32h0M644.7 337.26h0M644.7 325h0M644.7 321.94h0M653.36 441.44h0M653.36 432.24h0M653.36 429.18h0M653.36 426.12h0M653.36 423.05h0M653.36 419.99h0M653.36 416.92h0M653.36 404.67h0M653.36 401.6h0M653.36 398.54h0M653.36 395.48h0M653.36 386.28h0M653.36 383.22h0M653.36 380.16h0M653.36 377.09h0M653.36 374.03h0M653.36 370.96h0M653.36 355.64h0M664.91 435.31h0M664.91 429.18h0M664.91 426.12h0M664.91 423.05h0M664.91 419.99h0M664.91 416.92h0M664.91 413.86h0M664.91 410.8h0M664.91 407.73h0M664.91 404.67h0M664.91 401.6h0M664.91 398.54h0M664.91 395.48h0M664.91 392.41h0M664.91 389.35h0M664.91 386.28h0M664.91 383.22h0M664.91 380.16h0M664.91 377.09h0M664.91 374.03h0M664.91 364.84h0M664.91 358.71h0M664.91 349.52h0M673.57 444.5h0M673.57 435.31h0M673.57 423.05h0M673.57 410.8h0M673.57 407.73h0M673.57 401.6h0M673.57 398.54h0M673.57 395.48h0M673.57 383.22h0M673.57 380.16h0M673.57 377.09h0M673.57 374.03h0M673.57 364.84h0M673.57 361.77h0M673.57 358.71h0M673.57 352.58h0M673.57 349.52h0M682.23 453.69h0M682.23 441.44h0M682.23 438.37h0M682.23 432.24h0M682.23 416.92h0M682.23 413.86h0M682.23 407.73h0M682.23 401.6h0M682.23 395.48h0M682.23 389.35h0M682.23 386.28h0M682.23 383.22h0M682.23 377.09h0M682.23 370.96h0M682.23 364.84h0M682.23 358.71h0M693.78 435.31h0M693.78 429.18h0M693.78 416.92h0M693.78 413.86h0M693.78 410.8h0M693.78 407.73h0M693.78 401.6h0M693.78 398.54h0M693.78 364.84h0M693.78 355.64h0M693.78 352.58h0M693.78 340.32h0M702.44 447.56h0M702.44 423.05h0M702.44 416.92h0M702.44 404.67h0M702.44 401.6h0M702.44 395.48h0M702.44 386.28h0M702.44 364.84h0M711.1 432.24h0M711.1 426.12h0M711.1 416.92h0M711.1 410.8h0M711.1 407.73h0M711.1 401.6h0M711.1 392.41h0M711.1 380.16h0M711.1 367.9h0M711.1 361.77h0M711.1 352.58h0M722.65 429.18h0M722.65 416.92h0M722.65 404.67h0M731.31 444.5h0M731.31 441.44h0M731.31 438.37h0M731.31 435.31h0M731.31 429.18h0M731.31 426.12h0M731.31 423.05h0M731.31 416.92h0M731.31 413.86h0M731.31 407.73h0M731.31 404.67h0M731.31 401.6h0M731.31 398.54h0M731.31 395.48h0M731.31 389.35h0M731.31 383.22h0M731.31 380.16h0M731.31 377.09h0M731.31 374.03h0M731.31 325h0" stroke="#868686" stroke-width="3.1" stroke-linecap="round" fill="none" clip-path="url(#c4)"/>
<path d="M471.49 391.34L477.99 391.59L484.48 391.85L490.98 392.09L497.47 392.34L503.97 392.59L510.46 392.83L516.96 393.06L523.45 393.3L529.95 393.53L536.45 393.74L542.94 393.96L549.44 394.16L555.93 394.34L562.43 394.51L568.92 394.65L575.42 394.78L581.91 394.87L588.41 394.93L594.9 394.95L601.4 394.95L607.9 394.92L614.39 394.86L620.89 394.78L627.38 394.69L633.88 394.58L640.37 394.47L646.87 394.35L653.36 394.21L659.86 394.08L666.35 393.94L672.85 393.79L679.35 393.65L685.84 393.5L692.34 393.35L698.83 393.2L705.33 393.04L711.82 392.89L718.32 392.73L724.81 392.57L731.31 392.41L731.31 402.52L724.81 402.27L718.32 402.01L711.82 401.75L705.33 401.5L698.83 401.24L692.34 400.99L685.84 400.74L679.35 400.49L672.85 400.24L666.35 400L659.86 399.76L653.36 399.53L646.87 399.3L640.37 399.07L633.88 398.86L627.38 398.65L620.89 398.46L614.39 398.29L607.9 398.13L601.4 397.99L594.9 397.89L588.41 397.82L581.91 397.78L575.42 397.77L568.92 397.79L562.43 397.84L555.93 397.91L549.44 397.99L542.94 398.09L536.45 398.2L529.95 398.32L523.45 398.45L516.96 398.58L510.46 398.72L503.97 398.86L497.47 399.01L490.98 399.16L484.48 399.31L477.99 399.46L471.49 399.61Z" fill="#999999" fill-opacity="0.4" clip-path="url(#c4)"/>
<path d="M471.49 397.62L475.82 397.46L480.15 397.3L484.48 397.15L488.81 397L493.14 396.85L497.47 396.72L501.8 396.59L506.13 396.46L510.46 396.34L514.79 396.23L519.12 396.13L523.45 396.03L527.78 395.94L532.12 395.87L536.45 395.79L540.78 395.71L545.11 395.62L549.44 395.54L553.77 395.46L558.1 395.39L562.43 395.32L566.76 395.26L571.09 395.2L575.42 395.15L579.75 395.11L584.08 395.08L588.41 395.06L592.74 395.06L597.07 395.07L601.4 395.09L605.73 395.13L610.06 395.19L614.39 395.25L618.72 395.33L623.05 395.41L627.38 395.5L631.71 395.6L636.04 395.69L640.37 395.79L644.7 395.88L649.03 395.98L653.36 396.07L657.69 396.17L662.02 396.27L666.35 396.38L670.68 396.5L675.02 396.63L679.35 396.78L683.68 396.95L688.01 397.14L692.34 397.4L696.67 397.8L701 398.3L705.33 398.89L709.66 399.54L713.99 400.27L718.32 401.21L722.65 402.34L726.98 403.6L731.31 404.97" stroke="#000" stroke-width="1" stroke-dasharray="4.5,4.7" fill="none" clip-path="url(#c4)"/>
<path d="M471.49 395.48L731.31 397.47" stroke="#000" stroke-width="1" fill="none" clip-path="url(#c4)"/>
<rect x="458.5" y="289.5" width="286" height="178" fill="none" stroke="#333333" stroke-width="1.1"/>
<path d="M471.49 467.2v4.3M500.36 467.2v4.3M529.23 467.2v4.3M558.1 467.2v4.3M586.97 467.2v4.3M615.83 467.2v4.3M644.7 467.2v4.3M673.57 467.2v4.3M702.44 467.2v4.3M731.31 467.2v4.3M458.5 459.82h-4.3M458.5 444.5h-4.3M458.5 429.18h-4.3M458.5 413.86h-4.3M458.5 398.54h-4.3M458.5 383.22h-4.3M458.5 367.9h-4.3M458.5 352.58h-4.3M458.5 337.26h-4.3M458.5 321.94h-4.3M458.5 306.62h-4.3M458.5 291.3h-4.3" stroke="#333333" stroke-width="1.45" fill="none"/>
<text x="471.49" y="484.6" text-anchor="middle" font-size="15.3" fill="#4D4D4D">1</text>
<text x="500.36" y="484.6" text-anchor="middle" font-size="15.3" fill="#4D4D4D">2</text>
<text x="529.23" y="484.6" text-anchor="middle" font-size="15.3" fill="#4D4D4D">3</text>
<text x="558.1" y="484.6" text-anchor="middle" font-size="15.3" fill="#4D4D4D">4</text>
<text x="586.97" y="484.6" text-anchor="middle" font-size="15.3" fill="#4D4D4D">5</text>
<text x="615.83" y="484.6" text-anchor="middle" font-size="15.3" fill="#4D4D4D">6</text>
<text x="644.7" y="484.6" text-anchor="middle" font-size="15.3" fill="#4D4D4D">7</text>
<text x="673.57" y="484.6" text-anchor="middle" font-size="15.3" fill="#4D4D4D">8</text>
<text x="702.44" y="484.6" text-anchor="middle" font-size="15.3" fill="#4D4D4D">9</text>
<text x="731.31" y="484.6" text-anchor="middle" font-size="15.3" fill="#4D4D4D">10</text>
<text x="450.5" y="465.02" text-anchor="end" font-size="15.3" fill="#4D4D4D">20</text>
<text x="450.5" y="449.7" text-anchor="end" font-size="15.3" fill="#4D4D4D">25</text>
<text x="450.5" y="434.38" text-anchor="end" font-size="15.3" fill="#4D4D4D">30</text>
<text x="450.5" y="419.06" text-anchor="end" font-size="15.3" fill="#4D4D4D">35</text>
<text x="450.5" y="403.74" text-anchor="end" font-size="15.3" fill="#4D4D4D">40</text>
<text x="450.5" y="388.42" text-anchor="end" font-size="15.3" fill="#4D4D4D">45</text>
<text x="450.5" y="373.1" text-anchor="end" font-size="15.3" fill="#4D4D4D">50</text>
<text x="450.5" y="357.78" text-anchor="end" font-size="15.3" fill="#4D4D4D">55</text>
<text x="450.5" y="342.46" text-anchor="end" font-size="15.3" fill="#4D4D4D">60</text>
<text x="450.5" y="327.14" text-anchor="end" font-size="15.3" fill="#4D4D4D">65</text>
<text x="450.5" y="311.82" text-anchor="end" font-size="15.3" fill="#4D4D4D">70</text>
<text x="450.5" y="296.5" text-anchor="end" font-size="15.3" fill="#4D4D4D">75</text>
<text x="605.6" y="504.3" text-anchor="middle" font-size="18.1" fill="#000">Стабильность места жительства /</text>
<text x="601.4" y="523.9" text-anchor="middle" font-size="18.1" fill="#000">Stability of residence</text>
<text transform="translate(408.9,374.15) rotate(-90)" text-anchor="middle" font-size="18.1" fill="#000">Депрессивность /</text>
<text transform="translate(428.5,378.35) rotate(-90)" text-anchor="middle" font-size="17.62" fill="#000">Depressiveness</text>
</g>
<g>
<clipPath id="c5"><rect x="823.6" y="289.5" width="285.8" height="177.7"/></clipPath>
<path d="M851.03 289.5V467.2M879.89 289.5V467.2M908.76 289.5V467.2M937.63 289.5V467.2M966.5 289.5V467.2M995.37 289.5V467.2M1024.24 289.5V467.2M1053.11 289.5V467.2M1081.97 289.5V467.2M823.6 452.16H1109.4M823.6 436.84H1109.4M823.6 421.52H1109.4M823.6 406.2H1109.4M823.6 390.88H1109.4M823.6 375.56H1109.4M823.6 360.24H1109.4M823.6 344.92H1109.4M823.6 329.6H1109.4M823.6 314.28H1109.4M823.6 298.96H1109.4" stroke="#E9E9E9" stroke-width="0.95" fill="none"/>
<path d="M836.59 289.5V467.2M865.46 289.5V467.2M894.33 289.5V467.2M923.2 289.5V467.2M952.07 289.5V467.2M980.93 289.5V467.2M1009.8 289.5V467.2M1038.67 289.5V467.2M1067.54 289.5V467.2M1096.41 289.5V467.2M823.6 459.82H1109.4M823.6 444.5H1109.4M823.6 429.18H1109.4M823.6 413.86H1109.4M823.6 398.54H1109.4M823.6 383.22H1109.4M823.6 367.9H1109.4M823.6 352.58H1109.4M823.6 337.26H1109.4M823.6 321.94H1109.4M823.6 306.62H1109.4M823.6 291.3H1109.4" stroke="#E9E9E9" stroke-width="1.3" fill="none"/>
<path d="M836.59 416.92h0M842.36 352.58h0M871.23 401.6h0M877.01 429.18h0M888.55 377.09h0M905.88 340.32h0M905.88 334.2h0M917.42 416.92h0M917.42 334.2h0M923.2 398.54h0M928.97 407.73h0M934.74 413.86h0M940.52 407.73h0M940.52 404.67h0M940.52 340.32h0M946.29 389.35h0M946.29 355.64h0M952.07 401.6h0M952.07 392.41h0M952.07 389.35h0M952.07 386.28h0M952.07 374.03h0M952.07 370.96h0M952.07 361.77h0M952.07 358.71h0M952.07 346.45h0M952.07 334.2h0M952.07 315.81h0M957.84 419.99h0M957.84 401.6h0M957.84 398.54h0M957.84 395.48h0M957.84 389.35h0M957.84 374.03h0M957.84 370.96h0M957.84 361.77h0M957.84 334.2h0M963.61 419.99h0M963.61 410.8h0M963.61 401.6h0M963.61 377.09h0M963.61 364.84h0M963.61 355.64h0M963.61 309.68h0M969.39 416.92h0M969.39 407.73h0M969.39 398.54h0M969.39 395.48h0M969.39 370.96h0M969.39 358.71h0M975.16 404.67h0M975.16 395.48h0M975.16 386.28h0M975.16 377.09h0M975.16 370.96h0M980.93 410.8h0M980.93 407.73h0M980.93 404.67h0M980.93 401.6h0M980.93 389.35h0M980.93 370.96h0M980.93 367.9h0M980.93 358.71h0M980.93 328.07h0M986.71 432.24h0M986.71 416.92h0M986.71 395.48h0M986.71 392.41h0M986.71 377.09h0M986.71 374.03h0M986.71 361.77h0M986.71 358.71h0M992.48 423.05h0M992.48 419.99h0M992.48 407.73h0M992.48 392.41h0M992.48 380.16h0M992.48 377.09h0M992.48 374.03h0M992.48 367.9h0M992.48 358.71h0M992.48 337.26h0M992.48 331.13h0M992.48 309.68h0M998.26 426.12h0M998.26 416.92h0M998.26 413.86h0M998.26 401.6h0M998.26 395.48h0M998.26 392.41h0M998.26 389.35h0M998.26 377.09h0M998.26 364.84h0M998.26 352.58h0M998.26 349.52h0M1004.03 432.24h0M1004.03 416.92h0M1004.03 410.8h0M1004.03 407.73h0M1004.03 404.67h0M1004.03 398.54h0M1004.03 392.41h0M1004.03 383.22h0M1004.03 377.09h0M1004.03 370.96h0M1004.03 364.84h0M1004.03 361.77h0M1004.03 349.52h0M1009.8 423.05h0M1009.8 419.99h0M1009.8 416.92h0M1009.8 401.6h0M1009.8 395.48h0M1009.8 392.41h0M1009.8 389.35h0M1009.8 383.22h0M1009.8 367.9h0M1009.8 355.64h0M1009.8 352.58h0M1009.8 349.52h0M1009.8 346.45h0M1009.8 331.13h0M1015.58 438.37h0M1015.58 423.05h0M1015.58 416.92h0M1015.58 413.86h0M1015.58 407.73h0M1015.58 401.6h0M1015.58 398.54h0M1015.58 386.28h0M1015.58 383.22h0M1015.58 380.16h0M1015.58 377.09h0M1015.58 374.03h0M1015.58 361.77h0M1015.58 358.71h0M1015.58 355.64h0M1015.58 349.52h0M1015.58 337.26h0M1021.35 429.18h0M1021.35 423.05h0M1021.35 416.92h0M1021.35 413.86h0M1021.35 410.8h0M1021.35 407.73h0M1021.35 404.67h0M1021.35 401.6h0M1021.35 398.54h0M1021.35 395.48h0M1021.35 392.41h0M1021.35 389.35h0M1021.35 374.03h0M1021.35 370.96h0M1021.35 367.9h0M1021.35 364.84h0M1021.35 355.64h0M1021.35 352.58h0M1021.35 349.52h0M1021.35 346.45h0M1021.35 340.32h0M1021.35 334.2h0M1027.12 453.69h0M1027.12 432.24h0M1027.12 429.18h0M1027.12 426.12h0M1027.12 423.05h0M1027.12 419.99h0M1027.12 416.92h0M1027.12 410.8h0M1027.12 407.73h0M1027.12 404.67h0M1027.12 401.6h0M1027.12 398.54h0M1027.12 395.48h0M1027.12 392.41h0M1027.12 389.35h0M1027.12 386.28h0M1027.12 380.16h0M1027.12 377.09h0M1027.12 370.96h0M1027.12 367.9h0M1027.12 364.84h0M1027.12 325h0M1032.9 429.18h0M1032.9 423.05h0M1032.9 419.99h0M1032.9 416.92h0M1032.9 413.86h0M1032.9 407.73h0M1032.9 398.54h0M1032.9 395.48h0M1032.9 383.22h0M1032.9 380.16h0M1032.9 377.09h0M1032.9 370.96h0M1032.9 367.9h0M1032.9 364.84h0M1038.67 444.5h0M1038.67 441.44h0M1038.67 429.18h0M1038.67 426.12h0M1038.67 423.05h0M1038.67 419.99h0M1038.67 416.92h0M1038.67 410.8h0M1038.67 407.73h0M1038.67 404.67h0M1038.67 401.6h0M1038.67 398.54h0M1038.67 395.48h0M1038.67 392.41h0M1038.67 383.22h0M1038.67 380.16h0M1038.67 377.09h0M1038.67 374.03h0M1038.67 361.77h0M1038.67 352.58h0M1038.67 349.52h0M1038.67 346.45h0M1038.67 328.07h0M1038.67 297.43h0M1044.45 450.63h0M1044.45 447.56h0M1044.45 438.37h0M1044.45 435.31h0M1044.45 429.18h0M1044.45 423.05h0M1044.45 419.99h0M1044.45 410.8h0M1044.45 407.73h0M1044.45 404.67h0M1044.45 401.6h0M1044.45 398.54h0M1044.45 395.48h0M1044.45 386.28h0M1044.45 383.22h0M1044.45 380.16h0M1044.45 370.96h0M1044.45 367.9h0M1044.45 364.84h0M1044.45 361.77h0M1044.45 358.71h0M1044.45 355.64h0M1044.45 352.58h0M1050.22 435.31h0M1050.22 432.24h0M1050.22 429.18h0M1050.22 426.12h0M1050.22 423.05h0M1050.22 419.99h0M1050.22 416.92h0M1050.22 413.86h0M1050.22 410.8h0M1050.22 407.73h0M1050.22 404.67h0M1050.22 401.6h0M1050.22 398.54h0M1050.22 395.48h0M1050.22 386.28h0M1050.22 383.22h0M1050.22 374.03h0M1050.22 370.96h0M1050.22 364.84h0M1050.22 358.71h0M1050.22 349.52h0M1050.22 343.39h0M1050.22 325h0M1055.99 450.63h0M1055.99 444.5h0M1055.99 441.44h0M1055.99 432.24h0M1055.99 429.18h0M1055.99 426.12h0M1055.99 419.99h0M1055.99 416.92h0M1055.99 410.8h0M1055.99 407.73h0M1055.99 398.54h0M1055.99 395.48h0M1055.99 392.41h0M1055.99 389.35h0M1055.99 386.28h0M1055.99 383.22h0M1055.99 380.16h0M1055.99 377.09h0M1055.99 370.96h0M1055.99 364.84h0M1055.99 358.71h0M1055.99 355.64h0M1055.99 352.58h0M1055.99 349.52h0M1055.99 346.45h0M1055.99 340.32h0M1055.99 334.2h0M1061.77 453.69h0M1061.77 438.37h0M1061.77 432.24h0M1061.77 429.18h0M1061.77 426.12h0M1061.77 419.99h0M1061.77 416.92h0M1061.77 413.86h0M1061.77 410.8h0M1061.77 407.73h0M1061.77 404.67h0M1061.77 401.6h0M1061.77 386.28h0M1061.77 380.16h0M1061.77 377.09h0M1061.77 374.03h0M1061.77 370.96h0M1061.77 367.9h0M1061.77 364.84h0M1061.77 361.77h0M1061.77 358.71h0M1061.77 352.58h0M1061.77 343.39h0M1061.77 337.26h0M1067.54 447.56h0M1067.54 441.44h0M1067.54 438.37h0M1067.54 435.31h0M1067.54 432.24h0M1067.54 429.18h0M1067.54 426.12h0M1067.54 423.05h0M1067.54 419.99h0M1067.54 416.92h0M1067.54 413.86h0M1067.54 410.8h0M1067.54 395.48h0M1067.54 392.41h0M1067.54 389.35h0M1067.54 386.28h0M1067.54 383.22h0M1067.54 380.16h0M1067.54 370.96h0M1067.54 367.9h0M1067.54 364.84h0M1067.54 361.77h0M1067.54 358.71h0M1067.54 352.58h0M1067.54 321.94h0M1073.31 450.63h0M1073.31 444.5h0M1073.31 438.37h0M1073.31 432.24h0M1073.31 426.12h0M1073.31 423.05h0M1073.31 416.92h0M1073.31 413.86h0M1073.31 410.8h0M1073.31 407.73h0M1073.31 404.67h0M1073.31 401.6h0M1073.31 398.54h0M1073.31 395.48h0M1073.31 389.35h0M1073.31 386.28h0M1073.31 383.22h0M1073.31 380.16h0M1073.31 374.03h0M1073.31 370.96h0M1073.31 367.9h0M1073.31 361.77h0M1073.31 340.32h0M1073.31 331.13h0M1079.09 441.44h0M1079.09 435.31h0M1079.09 432.24h0M1079.09 426.12h0M1079.09 423.05h0M1079.09 419.99h0M1079.09 416.92h0M1079.09 413.86h0M1079.09 410.8h0M1079.09 407.73h0M1079.09 404.67h0M1079.09 401.6h0M1079.09 395.48h0M1079.09 392.41h0M1079.09 389.35h0M1079.09 386.28h0M1079.09 383.22h0M1079.09 380.16h0M1079.09 377.09h0M1079.09 374.03h0M1079.09 370.96h0M1079.09 349.52h0M1084.86 447.56h0M1084.86 444.5h0M1084.86 441.44h0M1084.86 438.37h0M1084.86 435.31h0M1084.86 429.18h0M1084.86 426.12h0M1084.86 423.05h0M1084.86 419.99h0M1084.86 416.92h0M1084.86 413.86h0M1084.86 410.8h0M1084.86 407.73h0M1084.86 404.67h0M1084.86 401.6h0M1084.86 398.54h0M1084.86 395.48h0M1084.86 392.41h0M1084.86 389.35h0M1084.86 383.22h0M1084.86 370.96h0M1084.86 355.64h0M1084.86 343.39h0M1084.86 318.88h0M1090.64 447.56h0M1090.64 438.37h0M1090.64 435.31h0M1090.64 426.12h0M1090.64 423.05h0M1090.64 419.99h0M1090.64 416.92h0M1090.64 413.86h0M1090.64 410.8h0M1090.64 407.73h0M1090.64 404.67h0M1090.64 401.6h0M1090.64 398.54h0M1090.64 395.48h0M1090.64 392.41h0M1090.64 389.35h0M1090.64 386.28h0M1090.64 383.22h0M1090.64 380.16h0M1090.64 377.09h0M1090.64 370.96h0M1090.64 364.84h0M1090.64 361.77h0M1090.64 349.52h0M1090.64 328.07h0M1096.41 459.82h0M1096.41 456.76h0M1096.41 453.69h0M1096.41 447.56h0M1096.41 444.5h0M1096.41 441.44h0M1096.41 438.37h0M1096.41 435.31h0M1096.41 432.24h0M1096.41 429.18h0M1096.41 426.12h0M1096.41 423.05h0M1096.41 419.99h0M1096.41 416.92h0M1096.41 413.86h0M1096.41 410.8h0M1096.41 407.73h0M1096.41 404.67h0M1096.41 401.6h0M1096.41 398.54h0M1096.41 395.48h0M1096.41 392.41h0M1096.41 389.35h0M1096.41 386.28h0M1096.41 383.22h0M1096.41 377.09h0M1096.41 374.03h0M1096.41 370.96h0M1096.41 367.9h0M1096.41 364.84h0M1096.41 361.77h0M1096.41 358.71h0M1096.41 355.64h0M1096.41 352.58h0M1096.41 349.52h0M1096.41 337.26h0M1096.41 328.07h0M1096.41 306.62h0" stroke="#868686" stroke-width="3.1" stroke-linecap="round" fill="none" clip-path="url(#c5)"/>
<path d="M836.59 347.98L843.09 349.45L849.58 350.92L856.08 352.39L862.57 353.86L869.07 355.33L875.56 356.8L882.06 358.27L888.55 359.74L895.05 361.21L901.55 362.68L908.04 364.14L914.54 365.61L921.03 367.08L927.53 368.54L934.02 370.01L940.52 371.48L947.01 372.94L953.51 374.4L960 375.87L966.5 377.33L973 378.79L979.49 380.25L985.99 381.7L992.48 383.15L998.98 384.6L1005.47 386.04L1011.97 387.47L1018.46 388.89L1024.96 390.28L1031.45 391.63L1037.95 392.93L1044.45 394.13L1050.94 395.22L1057.44 396.2L1063.93 397.08L1070.43 397.91L1076.92 398.71L1083.42 399.48L1089.91 400.24L1096.41 400.99L1096.41 407.12L1089.91 405.68L1083.42 404.25L1076.92 402.83L1070.43 401.44L1063.93 400.08L1057.44 398.77L1050.94 397.55L1044.45 396.45L1037.95 395.46L1031.45 394.57L1024.96 393.74L1018.46 392.94L1011.97 392.16L1005.47 391.4L998.98 390.65L992.48 389.91L985.99 389.17L979.49 388.43L973 387.7L966.5 386.97L960 386.24L953.51 385.51L947.01 384.78L940.52 384.06L934.02 383.33L927.53 382.61L921.03 381.88L914.54 381.16L908.04 380.43L901.55 379.71L895.05 378.99L888.55 378.27L882.06 377.55L875.56 376.82L869.07 376.1L862.57 375.38L856.08 374.66L849.58 373.94L843.09 373.22L836.59 372.5Z" fill="#999999" fill-opacity="0.4" clip-path="url(#c5)"/>
<path d="M836.59 395.78L840.92 394.26L845.25 392.78L849.58 391.35L853.91 389.96L858.24 388.61L862.57 387.3L866.9 386.01L871.23 384.72L875.56 383.47L879.89 382.3L884.22 381.17L888.55 380.08L892.88 379.17L897.22 378.5L901.55 377.92L905.88 377.46L910.21 377.16L914.54 376.9L918.87 376.71L923.2 376.63L927.53 376.73L931.86 376.98L936.19 377.29L940.52 377.63L944.85 378.04L949.18 378.55L953.51 379.14L957.84 379.91L962.17 380.8L966.5 381.69L970.83 382.56L975.16 383.44L979.49 384.3L983.82 385.11L988.15 385.91L992.48 386.72L996.81 387.51L1001.14 388.31L1005.47 389.1L1009.8 389.88L1014.13 390.66L1018.46 391.44L1022.79 392.21L1027.12 392.97L1031.45 393.72L1035.78 394.47L1040.12 395.22L1044.45 395.95L1048.78 396.68L1053.11 397.39L1057.44 398.1L1061.77 398.81L1066.1 399.5L1070.43 400.18L1074.76 400.85L1079.09 401.52L1083.42 402.17L1087.75 402.81L1092.08 403.44L1096.41 404.06" stroke="#000" stroke-width="1" stroke-dasharray="4.5,4.7" fill="none" clip-path="url(#c5)"/>
<path d="M836.59 360.24L1096.41 404.06" stroke="#000" stroke-width="1" fill="none" clip-path="url(#c5)"/>
<rect x="823.5" y="289.5" width="286" height="178" fill="none" stroke="#333333" stroke-width="1.1"/>
<path d="M836.59 467.2v4.3M865.46 467.2v4.3M894.33 467.2v4.3M923.2 467.2v4.3M952.07 467.2v4.3M980.93 467.2v4.3M1009.8 467.2v4.3M1038.67 467.2v4.3M1067.54 467.2v4.3M1096.41 467.2v4.3M823.6 459.82h-4.3M823.6 444.5h-4.3M823.6 429.18h-4.3M823.6 413.86h-4.3M823.6 398.54h-4.3M823.6 383.22h-4.3M823.6 367.9h-4.3M823.6 352.58h-4.3M823.6 337.26h-4.3M823.6 321.94h-4.3M823.6 306.62h-4.3M823.6 291.3h-4.3" stroke="#333333" stroke-width="1.45" fill="none"/>
<text x="836.59" y="484.6" text-anchor="middle" font-size="15.3" fill="#4D4D4D">1</text>
<text x="865.46" y="484.6" text-anchor="middle" font-size="15.3" fill="#4D4D4D">2</text>
<text x="894.33" y="484.6" text-anchor="middle" font-size="15.3" fill="#4D4D4D">3</text>
<text x="923.2" y="484.6" text-anchor="middle" font-size="15.3" fill="#4D4D4D">4</text>
<text x="952.07" y="484.6" text-anchor="middle" font-size="15.3" fill="#4D4D4D">5</text>
<text x="980.93" y="484.6" text-anchor="middle" font-size="15.3" fill="#4D4D4D">6</text>
<text x="1009.8" y="484.6" text-anchor="middle" font-size="15.3" fill="#4D4D4D">7</text>
<text x="1038.67" y="484.6" text-anchor="middle" font-size="15.3" fill="#4D4D4D">8</text>
<text x="1067.54" y="484.6" text-anchor="middle" font-size="15.3" fill="#4D4D4D">9</text>
<text x="1096.41" y="484.6" text-anchor="middle" font-size="15.3" fill="#4D4D4D">10</text>
<text x="815.6" y="465.02" text-anchor="end" font-size="15.3" fill="#4D4D4D">20</text>
<text x="815.6" y="449.7" text-anchor="end" font-size="15.3" fill="#4D4D4D">25</text>
<text x="815.6" y="434.38" text-anchor="end" font-size="15.3" fill="#4D4D4D">30</text>
<text x="815.6" y="419.06" text-anchor="end" font-size="15.3" fill="#4D4D4D">35</text>
<text x="815.6" y="403.74" text-anchor="end" font-size="15.3" fill="#4D4D4D">40</text>
<text x="815.6" y="388.42" text-anchor="end" font-size="15.3" fill="#4D4D4D">45</text>
<text x="815.6" y="373.1" text-anchor="end" font-size="15.3" fill="#4D4D4D">50</text>
<text x="815.6" y="357.78" text-anchor="end" font-size="15.3" fill="#4D4D4D">55</text>
<text x="815.6" y="342.46" text-anchor="end" font-size="15.3" fill="#4D4D4D">60</text>
<text x="815.6" y="327.14" text-anchor="end" font-size="15.3" fill="#4D4D4D">65</text>
<text x="815.6" y="311.82" text-anchor="end" font-size="15.3" fill="#4D4D4D">70</text>
<text x="815.6" y="296.5" text-anchor="end" font-size="15.3" fill="#4D4D4D">75</text>
<text x="970.7" y="504.3" text-anchor="middle" font-size="18.1" fill="#000">Служение /</text>
<text x="966.5" y="523.9" text-anchor="middle" font-size="18.1" fill="#000">Service</text>
<text transform="translate(774,374.15) rotate(-90)" text-anchor="middle" font-size="18.1" fill="#000">Депрессивность /</text>
<text transform="translate(793.6,378.35) rotate(-90)" text-anchor="middle" font-size="17.62" fill="#000">Depressiveness</text>
</g>
<g>
<clipPath id="c6"><rect x="93.5" y="545.8" width="285.8" height="177.7"/></clipPath>
<path d="M115.35 545.8V723.5M144.87 545.8V723.5M174.4 545.8V723.5M203.92 545.8V723.5M233.45 545.8V723.5M262.97 545.8V723.5M292.5 545.8V723.5M322.02 545.8V723.5M351.55 545.8V723.5M93.5 707.71H379.3M93.5 692.39H379.3M93.5 677.07H379.3M93.5 661.75H379.3M93.5 646.43H379.3M93.5 631.11H379.3M93.5 615.79H379.3M93.5 600.47H379.3M93.5 585.15H379.3M93.5 569.83H379.3M93.5 554.51H379.3" stroke="#E9E9E9" stroke-width="0.95" fill="none"/>
<path d="M100.59 545.8V723.5M130.11 545.8V723.5M159.64 545.8V723.5M189.16 545.8V723.5M218.69 545.8V723.5M248.21 545.8V723.5M277.73 545.8V723.5M307.26 545.8V723.5M336.78 545.8V723.5M366.31 545.8V723.5M93.5 715.37H379.3M93.5 700.05H379.3M93.5 684.73H379.3M93.5 669.41H379.3M93.5 654.09H379.3M93.5 638.77H379.3M93.5 623.45H379.3M93.5 608.13H379.3M93.5 592.81H379.3M93.5 577.49H379.3M93.5 562.17H379.3M93.5 546.85H379.3" stroke="#E9E9E9" stroke-width="1.3" fill="none"/>
<path d="M106.49 608.13h0M112.4 684.73h0M124.21 657.15h0M124.21 654.09h0M130.11 663.28h0M130.11 654.09h0M141.92 620.39h0M141.92 589.75h0M147.83 669.41h0M147.83 632.64h0M153.73 678.6h0M153.73 660.22h0M153.73 629.58h0M153.73 614.26h0M153.73 611.19h0M153.73 605.07h0M153.73 589.75h0M159.64 666.35h0M159.64 651.03h0M159.64 602h0M159.64 592.81h0M159.64 552.98h0M165.54 663.28h0M165.54 605.07h0M165.54 595.87h0M171.45 672.47h0M171.45 623.45h0M171.45 611.19h0M171.45 608.13h0M171.45 589.75h0M171.45 565.23h0M177.35 690.86h0M177.35 672.47h0M177.35 663.28h0M177.35 660.22h0M177.35 657.15h0M177.35 651.03h0M177.35 647.96h0M177.35 638.77h0M183.26 690.86h0M183.26 672.47h0M183.26 647.96h0M183.26 638.77h0M183.26 620.39h0M183.26 617.32h0M183.26 608.13h0M183.26 602h0M189.16 666.35h0M189.16 660.22h0M189.16 651.03h0M189.16 632.64h0M189.16 626.51h0M189.16 617.32h0M195.07 690.86h0M195.07 681.67h0M195.07 672.47h0M195.07 669.41h0M195.07 657.15h0M195.07 654.09h0M195.07 626.51h0M195.07 620.39h0M195.07 608.13h0M195.07 595.87h0M195.07 589.75h0M195.07 586.68h0M200.97 684.73h0M200.97 666.35h0M200.97 647.96h0M200.97 638.77h0M200.97 635.71h0M200.97 626.51h0M200.97 614.26h0M200.97 608.13h0M200.97 595.87h0M200.97 589.75h0M206.88 715.37h0M206.88 696.99h0M206.88 690.86h0M206.88 681.67h0M206.88 678.6h0M206.88 675.54h0M206.88 672.47h0M206.88 660.22h0M206.88 657.15h0M206.88 654.09h0M206.88 651.03h0M206.88 647.96h0M206.88 644.9h0M206.88 638.77h0M206.88 632.64h0M206.88 626.51h0M206.88 614.26h0M212.78 709.24h0M212.78 706.18h0M212.78 700.05h0M212.78 687.79h0M212.78 684.73h0M212.78 678.6h0M212.78 675.54h0M212.78 672.47h0M212.78 666.35h0M212.78 660.22h0M212.78 657.15h0M212.78 651.03h0M212.78 647.96h0M212.78 644.9h0M212.78 641.83h0M212.78 632.64h0M212.78 626.51h0M212.78 623.45h0M212.78 605.07h0M212.78 589.75h0M212.78 565.23h0M218.69 678.6h0M218.69 672.47h0M218.69 666.35h0M218.69 663.28h0M218.69 654.09h0M218.69 651.03h0M218.69 644.9h0M218.69 641.83h0M218.69 638.77h0M218.69 635.71h0M218.69 629.58h0M218.69 626.51h0M218.69 620.39h0M218.69 614.26h0M218.69 611.19h0M218.69 608.13h0M218.69 571.36h0M224.59 703.11h0M224.59 687.79h0M224.59 684.73h0M224.59 672.47h0M224.59 660.22h0M224.59 657.15h0M224.59 651.03h0M224.59 644.9h0M224.59 641.83h0M224.59 638.77h0M224.59 635.71h0M224.59 632.64h0M224.59 626.51h0M224.59 623.45h0M224.59 617.32h0M230.5 703.11h0M230.5 700.05h0M230.5 696.99h0M230.5 687.79h0M230.5 678.6h0M230.5 675.54h0M230.5 672.47h0M230.5 669.41h0M230.5 666.35h0M230.5 663.28h0M230.5 660.22h0M230.5 657.15h0M230.5 654.09h0M230.5 644.9h0M230.5 641.83h0M230.5 638.77h0M230.5 635.71h0M230.5 632.64h0M230.5 629.58h0M230.5 623.45h0M230.5 614.26h0M230.5 598.94h0M230.5 592.81h0M236.4 700.05h0M236.4 696.99h0M236.4 681.67h0M236.4 678.6h0M236.4 675.54h0M236.4 672.47h0M236.4 666.35h0M236.4 663.28h0M236.4 657.15h0M236.4 644.9h0M236.4 635.71h0M236.4 626.51h0M236.4 623.45h0M236.4 614.26h0M236.4 605.07h0M242.3 693.92h0M242.3 687.79h0M242.3 684.73h0M242.3 678.6h0M242.3 675.54h0M242.3 672.47h0M242.3 669.41h0M242.3 666.35h0M242.3 663.28h0M242.3 660.22h0M242.3 657.15h0M242.3 651.03h0M242.3 644.9h0M242.3 641.83h0M242.3 638.77h0M242.3 632.64h0M242.3 626.51h0M242.3 620.39h0M242.3 611.19h0M242.3 608.13h0M242.3 602h0M242.3 583.62h0M242.3 574.43h0M248.21 693.92h0M248.21 687.79h0M248.21 675.54h0M248.21 672.47h0M248.21 660.22h0M248.21 657.15h0M248.21 654.09h0M248.21 647.96h0M248.21 644.9h0M248.21 641.83h0M248.21 638.77h0M248.21 635.71h0M248.21 626.51h0M248.21 620.39h0M248.21 608.13h0M248.21 605.07h0M248.21 583.62h0M254.11 703.11h0M254.11 684.73h0M254.11 681.67h0M254.11 678.6h0M254.11 675.54h0M254.11 672.47h0M254.11 669.41h0M254.11 666.35h0M254.11 657.15h0M254.11 654.09h0M254.11 651.03h0M254.11 644.9h0M254.11 641.83h0M254.11 638.77h0M254.11 632.64h0M254.11 626.51h0M254.11 623.45h0M254.11 617.32h0M254.11 614.26h0M254.11 611.19h0M254.11 608.13h0M254.11 586.68h0M260.02 700.05h0M260.02 696.99h0M260.02 693.92h0M260.02 684.73h0M260.02 681.67h0M260.02 678.6h0M260.02 675.54h0M260.02 672.47h0M260.02 669.41h0M260.02 666.35h0M260.02 663.28h0M260.02 660.22h0M260.02 657.15h0M260.02 647.96h0M260.02 644.9h0M260.02 638.77h0M260.02 626.51h0M260.02 623.45h0M260.02 620.39h0M260.02 617.32h0M260.02 611.19h0M260.02 592.81h0M260.02 586.68h0M265.92 681.67h0M265.92 672.47h0M265.92 669.41h0M265.92 666.35h0M265.92 663.28h0M265.92 660.22h0M265.92 657.15h0M265.92 654.09h0M265.92 647.96h0M265.92 632.64h0M265.92 623.45h0M265.92 605.07h0M265.92 602h0M271.83 693.92h0M271.83 690.86h0M271.83 678.6h0M271.83 672.47h0M271.83 669.41h0M271.83 666.35h0M271.83 663.28h0M271.83 660.22h0M271.83 657.15h0M271.83 654.09h0M271.83 651.03h0M271.83 647.96h0M271.83 641.83h0M271.83 635.71h0M271.83 632.64h0M271.83 629.58h0M271.83 623.45h0M271.83 620.39h0M271.83 617.32h0M271.83 611.19h0M271.83 608.13h0M271.83 602h0M271.83 598.94h0M271.83 595.87h0M277.73 693.92h0M277.73 684.73h0M277.73 681.67h0M277.73 678.6h0M277.73 675.54h0M277.73 672.47h0M277.73 669.41h0M277.73 663.28h0M277.73 660.22h0M277.73 654.09h0M277.73 651.03h0M277.73 647.96h0M277.73 644.9h0M277.73 641.83h0M277.73 632.64h0M277.73 629.58h0M277.73 611.19h0M277.73 605.07h0M283.64 712.31h0M283.64 709.24h0M283.64 700.05h0M283.64 693.92h0M283.64 690.86h0M283.64 687.79h0M283.64 684.73h0M283.64 675.54h0M283.64 672.47h0M283.64 669.41h0M283.64 666.35h0M283.64 663.28h0M283.64 657.15h0M283.64 654.09h0M283.64 651.03h0M283.64 644.9h0M283.64 641.83h0M283.64 638.77h0M283.64 632.64h0M283.64 629.58h0M283.64 623.45h0M283.64 620.39h0M283.64 617.32h0M283.64 611.19h0M283.64 605.07h0M283.64 595.87h0M289.54 703.11h0M289.54 696.99h0M289.54 693.92h0M289.54 690.86h0M289.54 687.79h0M289.54 684.73h0M289.54 681.67h0M289.54 678.6h0M289.54 675.54h0M289.54 669.41h0M289.54 660.22h0M289.54 651.03h0M289.54 647.96h0M289.54 644.9h0M289.54 638.77h0M289.54 635.71h0M289.54 632.64h0M289.54 629.58h0M289.54 617.32h0M289.54 614.26h0M289.54 611.19h0M289.54 583.62h0M289.54 580.55h0M295.45 709.24h0M295.45 706.18h0M295.45 696.99h0M295.45 693.92h0M295.45 690.86h0M295.45 687.79h0M295.45 681.67h0M295.45 678.6h0M295.45 675.54h0M295.45 672.47h0M295.45 669.41h0M295.45 666.35h0M295.45 663.28h0M295.45 660.22h0M295.45 651.03h0M295.45 647.96h0M295.45 641.83h0M295.45 635.71h0M295.45 632.64h0M295.45 629.58h0M295.45 620.39h0M295.45 617.32h0M295.45 611.19h0M301.35 696.99h0M301.35 681.67h0M301.35 678.6h0M301.35 675.54h0M301.35 672.47h0M301.35 666.35h0M301.35 660.22h0M301.35 651.03h0M301.35 644.9h0M301.35 641.83h0M301.35 638.77h0M301.35 635.71h0M301.35 629.58h0M301.35 623.45h0M301.35 614.26h0M301.35 605.07h0M307.26 712.31h0M307.26 700.05h0M307.26 696.99h0M307.26 690.86h0M307.26 681.67h0M307.26 672.47h0M307.26 669.41h0M307.26 666.35h0M307.26 663.28h0M307.26 657.15h0M307.26 654.09h0M307.26 651.03h0M307.26 647.96h0M307.26 644.9h0M307.26 641.83h0M307.26 638.77h0M307.26 632.64h0M307.26 626.51h0M307.26 623.45h0M307.26 620.39h0M307.26 617.32h0M307.26 614.26h0M307.26 605.07h0M313.16 693.92h0M313.16 690.86h0M313.16 687.79h0M313.16 684.73h0M313.16 681.67h0M313.16 678.6h0M313.16 675.54h0M313.16 672.47h0M313.16 666.35h0M313.16 660.22h0M313.16 651.03h0M313.16 641.83h0M313.16 638.77h0M313.16 632.64h0M313.16 626.51h0M313.16 617.32h0M313.16 608.13h0M313.16 605.07h0M313.16 580.55h0M319.07 703.11h0M319.07 700.05h0M319.07 696.99h0M319.07 681.67h0M319.07 666.35h0M319.07 663.28h0M319.07 660.22h0M319.07 651.03h0M319.07 638.77h0M319.07 632.64h0M319.07 617.32h0M319.07 614.26h0M319.07 611.19h0M324.97 706.18h0M324.97 703.11h0M324.97 693.92h0M324.97 690.86h0M324.97 687.79h0M324.97 681.67h0M324.97 678.6h0M324.97 675.54h0M324.97 669.41h0M324.97 666.35h0M324.97 663.28h0M324.97 651.03h0M324.97 644.9h0M324.97 638.77h0M324.97 635.71h0M324.97 611.19h0M324.97 598.94h0M330.88 696.99h0M330.88 687.79h0M330.88 684.73h0M330.88 678.6h0M330.88 672.47h0M330.88 669.41h0M330.88 666.35h0M330.88 663.28h0M330.88 660.22h0M330.88 651.03h0M330.88 644.9h0M330.88 641.83h0M330.88 638.77h0M330.88 632.64h0M330.88 629.58h0M330.88 620.39h0M330.88 583.62h0M336.78 700.05h0M336.78 693.92h0M336.78 684.73h0M336.78 681.67h0M336.78 666.35h0M336.78 663.28h0M336.78 660.22h0M336.78 657.15h0M336.78 654.09h0M336.78 651.03h0M336.78 641.83h0M336.78 635.71h0M336.78 626.51h0M336.78 614.26h0M336.78 611.19h0M336.78 598.94h0M342.69 703.11h0M342.69 687.79h0M342.69 684.73h0M342.69 678.6h0M342.69 651.03h0M342.69 647.96h0M342.69 641.83h0M342.69 635.71h0M348.59 684.73h0M348.59 678.6h0M348.59 669.41h0M348.59 663.28h0M348.59 660.22h0M348.59 657.15h0M348.59 654.09h0M348.59 623.45h0M348.59 577.49h0M354.5 687.79h0M354.5 678.6h0M354.5 669.41h0M354.5 666.35h0M354.5 651.03h0M354.5 620.39h0M354.5 562.17h0M360.4 678.6h0M360.4 669.41h0M360.4 657.15h0M360.4 654.09h0M360.4 647.96h0M360.4 635.71h0M360.4 626.51h0M360.4 620.39h0M360.4 611.19h0M366.31 703.11h0M366.31 700.05h0M366.31 693.92h0M366.31 690.86h0M366.31 681.67h0M366.31 672.47h0M366.31 669.41h0M366.31 666.35h0M366.31 663.28h0M366.31 660.22h0M366.31 657.15h0M366.31 654.09h0M366.31 647.96h0M366.31 644.9h0M366.31 635.71h0M366.31 632.64h0M366.31 629.58h0M366.31 626.51h0M366.31 608.13h0M366.31 592.81h0" stroke="#868686" stroke-width="3.1" stroke-linecap="round" fill="none" clip-path="url(#c6)"/>
<path d="M106.49 628.66L112.99 629.53L119.48 630.39L125.98 631.26L132.47 632.12L138.97 632.98L145.46 633.84L151.96 634.7L158.45 635.56L164.95 636.42L171.45 637.27L177.94 638.12L184.44 638.97L190.93 639.81L197.43 640.65L203.92 641.49L210.42 642.32L216.91 643.14L223.41 643.95L229.9 644.76L236.4 645.56L242.9 646.34L249.39 647.11L255.89 647.86L262.38 648.59L268.88 649.29L275.37 649.98L281.87 650.63L288.36 651.25L294.86 651.85L301.35 652.41L307.85 652.95L314.35 653.46L320.84 653.96L327.34 654.43L333.83 654.88L340.33 655.33L346.82 655.76L353.32 656.18L359.81 656.59L366.31 657L366.31 664.97L359.81 664.14L353.32 663.32L346.82 662.51L340.33 661.71L333.83 660.92L327.34 660.14L320.84 659.38L314.35 658.64L307.85 657.92L301.35 657.22L294.86 656.56L288.36 655.92L281.87 655.31L275.37 654.73L268.88 654.17L262.38 653.65L255.89 653.14L249.39 652.66L242.9 652.2L236.4 651.75L229.9 651.31L223.41 650.88L216.91 650.46L210.42 650.05L203.92 649.65L197.43 649.25L190.93 648.86L184.44 648.47L177.94 648.08L171.45 647.7L164.95 647.32L158.45 646.94L151.96 646.57L145.46 646.19L138.97 645.82L132.47 645.45L125.98 645.08L119.48 644.71L112.99 644.35L106.49 643.98Z" fill="#999999" fill-opacity="0.4" clip-path="url(#c6)"/>
<path d="M106.49 628.35L110.83 629.12L115.14 629.88L119.48 630.63L123.82 631.37L128.13 632.1L132.47 632.83L136.81 633.53L141.12 634.23L145.46 634.92L149.8 635.61L154.11 636.31L158.45 637.03L162.79 637.77L167.11 638.54L171.45 639.32L175.79 640.11L180.1 640.89L184.44 641.66L188.78 642.39L193.09 643.11L197.43 643.86L201.77 644.6L206.08 645.31L210.42 645.97L214.76 646.54L219.07 647.01L223.41 647.42L227.75 647.83L232.06 648.24L236.4 648.65L240.74 649.06L245.05 649.47L249.39 649.89L253.73 650.3L258.04 650.71L262.38 651.12L266.72 651.53L271.03 651.94L275.37 652.35L279.71 652.76L284.02 653.17L288.36 653.58L292.7 654L297.01 654.41L301.35 654.82L305.69 655.23L310.01 655.64L314.35 656.05L318.69 656.46L323 656.86L327.34 656.89L331.68 656.64L335.99 656.37L340.33 656.24L344.67 656.13L348.98 656L353.32 655.83L357.66 655.64L361.97 655.41L366.31 655.16" stroke="#000" stroke-width="1" stroke-dasharray="4.5,4.7" fill="none" clip-path="url(#c6)"/>
<path d="M106.49 636.32L366.31 660.98" stroke="#000" stroke-width="1" fill="none" clip-path="url(#c6)"/>
<rect x="93.5" y="545.5" width="286" height="178" fill="none" stroke="#333333" stroke-width="1.1"/>
<path d="M100.59 723.5v4.3M130.11 723.5v4.3M159.64 723.5v4.3M189.16 723.5v4.3M218.69 723.5v4.3M248.21 723.5v4.3M277.73 723.5v4.3M307.26 723.5v4.3M336.78 723.5v4.3M366.31 723.5v4.3M93.5 715.37h-4.3M93.5 700.05h-4.3M93.5 684.73h-4.3M93.5 669.41h-4.3M93.5 654.09h-4.3M93.5 638.77h-4.3M93.5 623.45h-4.3M93.5 608.13h-4.3M93.5 592.81h-4.3M93.5 577.49h-4.3M93.5 562.17h-4.3M93.5 546.85h-4.3" stroke="#333333" stroke-width="1.45" fill="none"/>
<text x="100.59" y="740.6" text-anchor="middle" font-size="15.3" fill="#4D4D4D">1</text>
<text x="130.11" y="740.6" text-anchor="middle" font-size="15.3" fill="#4D4D4D">2</text>
<text x="159.64" y="740.6" text-anchor="middle" font-size="15.3" fill="#4D4D4D">3</text>
<text x="189.16" y="740.6" text-anchor="middle" font-size="15.3" fill="#4D4D4D">4</text>
<text x="218.69" y="740.6" text-anchor="middle" font-size="15.3" fill="#4D4D4D">5</text>
<text x="248.21" y="740.6" text-anchor="middle" font-size="15.3" fill="#4D4D4D">6</text>
<text x="277.73" y="740.6" text-anchor="middle" font-size="15.3" fill="#4D4D4D">7</text>
<text x="307.26" y="740.6" text-anchor="middle" font-size="15.3" fill="#4D4D4D">8</text>
<text x="336.78" y="740.6" text-anchor="middle" font-size="15.3" fill="#4D4D4D">9</text>
<text x="366.31" y="740.6" text-anchor="middle" font-size="15.3" fill="#4D4D4D">10</text>
<text x="85.5" y="720.57" text-anchor="end" font-size="15.3" fill="#4D4D4D">20</text>
<text x="85.5" y="705.25" text-anchor="end" font-size="15.3" fill="#4D4D4D">25</text>
<text x="85.5" y="689.93" text-anchor="end" font-size="15.3" fill="#4D4D4D">30</text>
<text x="85.5" y="674.61" text-anchor="end" font-size="15.3" fill="#4D4D4D">35</text>
<text x="85.5" y="659.29" text-anchor="end" font-size="15.3" fill="#4D4D4D">40</text>
<text x="85.5" y="643.97" text-anchor="end" font-size="15.3" fill="#4D4D4D">45</text>
<text x="85.5" y="628.65" text-anchor="end" font-size="15.3" fill="#4D4D4D">50</text>
<text x="85.5" y="613.33" text-anchor="end" font-size="15.3" fill="#4D4D4D">55</text>
<text x="85.5" y="598.01" text-anchor="end" font-size="15.3" fill="#4D4D4D">60</text>
<text x="85.5" y="582.69" text-anchor="end" font-size="15.3" fill="#4D4D4D">65</text>
<text x="85.5" y="567.37" text-anchor="end" font-size="15.3" fill="#4D4D4D">70</text>
<text x="85.5" y="552.05" text-anchor="end" font-size="15.3" fill="#4D4D4D">75</text>
<text x="240.6" y="760.3" text-anchor="middle" font-size="18.1" fill="#000">Вызов /</text>
<text x="236.4" y="779.9" text-anchor="middle" font-size="18.1" fill="#000">Challenge</text>
<text transform="translate(43.9,630.45) rotate(-90)" text-anchor="middle" font-size="18.1" fill="#000">Депрессивность /</text>
<text transform="translate(63.5,634.65) rotate(-90)" text-anchor="middle" font-size="17.62" fill="#000">Depressiveness</text>
</g>
<g>
<clipPath id="c7"><rect x="458.5" y="545.8" width="285.8" height="177.7"/></clipPath>
<path d="M460.67 545.8V723.5M496.75 545.8V723.5M532.84 545.8V723.5M568.92 545.8V723.5M605.01 545.8V723.5M641.09 545.8V723.5M677.18 545.8V723.5M713.27 545.8V723.5M458.5 707.71H744.3M458.5 692.39H744.3M458.5 677.07H744.3M458.5 661.75H744.3M458.5 646.43H744.3M458.5 631.11H744.3M458.5 615.79H744.3M458.5 600.47H744.3M458.5 585.15H744.3M458.5 569.83H744.3M458.5 554.51H744.3" stroke="#E9E9E9" stroke-width="0.95" fill="none"/>
<path d="M478.71 545.8V723.5M514.79 545.8V723.5M550.88 545.8V723.5M586.97 545.8V723.5M623.05 545.8V723.5M659.14 545.8V723.5M695.22 545.8V723.5M731.31 545.8V723.5M458.5 715.37H744.3M458.5 700.05H744.3M458.5 684.73H744.3M458.5 669.41H744.3M458.5 654.09H744.3M458.5 638.77H744.3M458.5 623.45H744.3M458.5 608.13H744.3M458.5 592.81H744.3M458.5 577.49H744.3M458.5 562.17H744.3M458.5 546.85H744.3" stroke="#E9E9E9" stroke-width="1.3" fill="none"/>
<path d="M471.49 552.98h0M485.93 657.15h0M507.58 672.47h0M514.79 690.86h0M514.79 623.45h0M514.79 595.87h0M522.01 687.79h0M522.01 626.51h0M529.23 617.32h0M529.23 589.75h0M536.45 693.92h0M536.45 675.54h0M536.45 617.32h0M536.45 605.07h0M536.45 592.81h0M550.88 672.47h0M550.88 657.15h0M550.88 644.9h0M550.88 641.83h0M550.88 629.58h0M550.88 626.51h0M550.88 571.36h0M558.1 666.35h0M558.1 635.71h0M558.1 632.64h0M558.1 617.32h0M565.31 700.05h0M565.31 681.67h0M565.31 675.54h0M565.31 669.41h0M565.31 660.22h0M565.31 644.9h0M565.31 641.83h0M565.31 626.51h0M565.31 620.39h0M565.31 611.19h0M565.31 608.13h0M565.31 605.07h0M572.53 693.92h0M572.53 687.79h0M572.53 672.47h0M572.53 663.28h0M572.53 654.09h0M572.53 651.03h0M572.53 647.96h0M572.53 638.77h0M572.53 611.19h0M572.53 565.23h0M579.75 693.92h0M579.75 687.79h0M579.75 675.54h0M579.75 663.28h0M579.75 660.22h0M579.75 654.09h0M579.75 647.96h0M579.75 644.9h0M579.75 638.77h0M579.75 632.64h0M579.75 629.58h0M579.75 626.51h0M579.75 620.39h0M579.75 602h0M579.75 595.87h0M579.75 589.75h0M586.97 669.41h0M586.97 666.35h0M586.97 660.22h0M586.97 657.15h0M586.97 651.03h0M586.97 638.77h0M586.97 635.71h0M586.97 629.58h0M586.97 626.51h0M586.97 611.19h0M586.97 589.75h0M586.97 577.49h0M586.97 565.23h0M594.18 687.79h0M594.18 675.54h0M594.18 672.47h0M594.18 663.28h0M594.18 660.22h0M594.18 657.15h0M594.18 641.83h0M594.18 632.64h0M594.18 626.51h0M594.18 623.45h0M594.18 617.32h0M594.18 608.13h0M594.18 605.07h0M601.4 687.79h0M601.4 681.67h0M601.4 672.47h0M601.4 663.28h0M601.4 654.09h0M601.4 651.03h0M601.4 647.96h0M601.4 629.58h0M601.4 626.51h0M601.4 623.45h0M601.4 614.26h0M601.4 583.62h0M608.62 693.92h0M608.62 678.6h0M608.62 675.54h0M608.62 672.47h0M608.62 669.41h0M608.62 666.35h0M608.62 663.28h0M608.62 657.15h0M608.62 651.03h0M608.62 644.9h0M608.62 641.83h0M608.62 638.77h0M608.62 629.58h0M608.62 626.51h0M608.62 623.45h0M608.62 617.32h0M608.62 614.26h0M608.62 611.19h0M608.62 608.13h0M615.83 709.24h0M615.83 684.73h0M615.83 681.67h0M615.83 678.6h0M615.83 672.47h0M615.83 666.35h0M615.83 663.28h0M615.83 660.22h0M615.83 657.15h0M615.83 654.09h0M615.83 651.03h0M615.83 647.96h0M615.83 641.83h0M615.83 638.77h0M615.83 635.71h0M615.83 632.64h0M615.83 620.39h0M615.83 617.32h0M615.83 611.19h0M615.83 598.94h0M615.83 592.81h0M615.83 586.68h0M615.83 580.55h0M623.05 703.11h0M623.05 693.92h0M623.05 690.86h0M623.05 687.79h0M623.05 684.73h0M623.05 681.67h0M623.05 678.6h0M623.05 675.54h0M623.05 672.47h0M623.05 669.41h0M623.05 666.35h0M623.05 660.22h0M623.05 644.9h0M623.05 641.83h0M623.05 638.77h0M623.05 632.64h0M623.05 629.58h0M623.05 623.45h0M623.05 620.39h0M623.05 614.26h0M630.27 712.31h0M630.27 700.05h0M630.27 690.86h0M630.27 684.73h0M630.27 681.67h0M630.27 678.6h0M630.27 675.54h0M630.27 669.41h0M630.27 666.35h0M630.27 663.28h0M630.27 660.22h0M630.27 654.09h0M630.27 644.9h0M630.27 641.83h0M630.27 638.77h0M630.27 635.71h0M630.27 632.64h0M630.27 614.26h0M630.27 611.19h0M630.27 608.13h0M630.27 605.07h0M630.27 598.94h0M637.49 690.86h0M637.49 681.67h0M637.49 678.6h0M637.49 672.47h0M637.49 663.28h0M637.49 660.22h0M637.49 657.15h0M637.49 654.09h0M637.49 651.03h0M637.49 647.96h0M637.49 644.9h0M637.49 641.83h0M637.49 635.71h0M637.49 626.51h0M637.49 623.45h0M637.49 614.26h0M637.49 611.19h0M637.49 608.13h0M637.49 605.07h0M637.49 602h0M637.49 598.94h0M637.49 592.81h0M644.7 703.11h0M644.7 696.99h0M644.7 687.79h0M644.7 681.67h0M644.7 678.6h0M644.7 675.54h0M644.7 672.47h0M644.7 669.41h0M644.7 666.35h0M644.7 663.28h0M644.7 660.22h0M644.7 654.09h0M644.7 644.9h0M644.7 641.83h0M644.7 638.77h0M644.7 635.71h0M644.7 632.64h0M644.7 629.58h0M644.7 626.51h0M644.7 623.45h0M644.7 620.39h0M644.7 614.26h0M644.7 611.19h0M644.7 608.13h0M644.7 605.07h0M644.7 595.87h0M644.7 586.68h0M651.92 693.92h0M651.92 690.86h0M651.92 687.79h0M651.92 684.73h0M651.92 681.67h0M651.92 678.6h0M651.92 675.54h0M651.92 672.47h0M651.92 663.28h0M651.92 660.22h0M651.92 657.15h0M651.92 654.09h0M651.92 651.03h0M651.92 647.96h0M651.92 644.9h0M651.92 641.83h0M651.92 638.77h0M651.92 632.64h0M651.92 629.58h0M651.92 626.51h0M651.92 623.45h0M651.92 614.26h0M651.92 608.13h0M651.92 605.07h0M651.92 602h0M651.92 589.75h0M651.92 586.68h0M659.14 703.11h0M659.14 693.92h0M659.14 690.86h0M659.14 687.79h0M659.14 684.73h0M659.14 681.67h0M659.14 678.6h0M659.14 675.54h0M659.14 666.35h0M659.14 663.28h0M659.14 660.22h0M659.14 657.15h0M659.14 654.09h0M659.14 651.03h0M659.14 647.96h0M659.14 638.77h0M659.14 635.71h0M659.14 629.58h0M659.14 623.45h0M659.14 614.26h0M659.14 611.19h0M659.14 608.13h0M659.14 605.07h0M666.35 709.24h0M666.35 706.18h0M666.35 696.99h0M666.35 693.92h0M666.35 687.79h0M666.35 684.73h0M666.35 681.67h0M666.35 678.6h0M666.35 675.54h0M666.35 672.47h0M666.35 669.41h0M666.35 666.35h0M666.35 663.28h0M666.35 660.22h0M666.35 651.03h0M666.35 647.96h0M666.35 644.9h0M666.35 641.83h0M666.35 638.77h0M666.35 635.71h0M666.35 632.64h0M666.35 629.58h0M666.35 620.39h0M666.35 617.32h0M666.35 614.26h0M666.35 611.19h0M666.35 608.13h0M666.35 562.17h0M673.57 715.37h0M673.57 706.18h0M673.57 700.05h0M673.57 696.99h0M673.57 687.79h0M673.57 684.73h0M673.57 681.67h0M673.57 678.6h0M673.57 672.47h0M673.57 669.41h0M673.57 666.35h0M673.57 663.28h0M673.57 660.22h0M673.57 657.15h0M673.57 644.9h0M673.57 641.83h0M673.57 638.77h0M673.57 632.64h0M673.57 617.32h0M673.57 614.26h0M673.57 608.13h0M673.57 605.07h0M673.57 595.87h0M673.57 583.62h0M680.79 703.11h0M680.79 700.05h0M680.79 693.92h0M680.79 687.79h0M680.79 681.67h0M680.79 678.6h0M680.79 675.54h0M680.79 672.47h0M680.79 669.41h0M680.79 666.35h0M680.79 660.22h0M680.79 657.15h0M680.79 651.03h0M680.79 647.96h0M680.79 644.9h0M680.79 641.83h0M680.79 635.71h0M680.79 629.58h0M680.79 626.51h0M680.79 623.45h0M680.79 620.39h0M680.79 617.32h0M680.79 614.26h0M680.79 611.19h0M680.79 592.81h0M680.79 583.62h0M688.01 696.99h0M688.01 693.92h0M688.01 690.86h0M688.01 678.6h0M688.01 675.54h0M688.01 672.47h0M688.01 669.41h0M688.01 666.35h0M688.01 663.28h0M688.01 660.22h0M688.01 657.15h0M688.01 651.03h0M688.01 647.96h0M688.01 644.9h0M688.01 641.83h0M688.01 638.77h0M688.01 632.64h0M688.01 629.58h0M688.01 626.51h0M688.01 623.45h0M688.01 620.39h0M688.01 605.07h0M688.01 602h0M695.22 712.31h0M695.22 703.11h0M695.22 700.05h0M695.22 696.99h0M695.22 690.86h0M695.22 684.73h0M695.22 678.6h0M695.22 672.47h0M695.22 669.41h0M695.22 666.35h0M695.22 663.28h0M695.22 660.22h0M695.22 657.15h0M695.22 654.09h0M695.22 651.03h0M695.22 647.96h0M695.22 644.9h0M695.22 641.83h0M695.22 638.77h0M695.22 635.71h0M695.22 632.64h0M695.22 626.51h0M695.22 623.45h0M695.22 620.39h0M695.22 617.32h0M702.44 709.24h0M702.44 703.11h0M702.44 696.99h0M702.44 693.92h0M702.44 690.86h0M702.44 687.79h0M702.44 678.6h0M702.44 669.41h0M702.44 666.35h0M702.44 663.28h0M702.44 660.22h0M702.44 657.15h0M702.44 654.09h0M702.44 651.03h0M702.44 638.77h0M702.44 635.71h0M702.44 629.58h0M702.44 611.19h0M702.44 602h0M702.44 598.94h0M702.44 574.43h0M709.66 706.18h0M709.66 703.11h0M709.66 700.05h0M709.66 696.99h0M709.66 693.92h0M709.66 690.86h0M709.66 687.79h0M709.66 684.73h0M709.66 678.6h0M709.66 675.54h0M709.66 672.47h0M709.66 669.41h0M709.66 666.35h0M709.66 663.28h0M709.66 660.22h0M709.66 657.15h0M709.66 654.09h0M709.66 651.03h0M709.66 647.96h0M709.66 644.9h0M709.66 641.83h0M709.66 632.64h0M709.66 620.39h0M709.66 617.32h0M716.87 693.92h0M716.87 687.79h0M716.87 678.6h0M716.87 669.41h0M716.87 666.35h0M716.87 663.28h0M716.87 660.22h0M716.87 657.15h0M716.87 654.09h0M716.87 651.03h0M716.87 647.96h0M716.87 641.83h0M716.87 638.77h0M716.87 629.58h0M716.87 623.45h0M716.87 611.19h0M724.09 690.86h0M724.09 669.41h0M724.09 657.15h0M724.09 644.9h0M724.09 635.71h0M724.09 620.39h0M724.09 583.62h0M731.31 703.11h0M731.31 700.05h0M731.31 696.99h0M731.31 693.92h0M731.31 687.79h0M731.31 681.67h0M731.31 678.6h0M731.31 669.41h0M731.31 663.28h0M731.31 660.22h0M731.31 657.15h0M731.31 654.09h0M731.31 644.9h0M731.31 635.71h0M731.31 632.64h0M731.31 629.58h0M731.31 620.39h0M731.31 617.32h0M731.31 608.13h0M731.31 595.87h0M731.31 580.55h0" stroke="#868686" stroke-width="3.1" stroke-linecap="round" fill="none" clip-path="url(#c7)"/>
<path d="M471.49 620.54L477.99 621.68L484.48 622.81L490.98 623.95L497.47 625.08L503.97 626.21L510.46 627.35L516.96 628.48L523.45 629.61L529.95 630.74L536.45 631.86L542.94 632.99L549.44 634.11L555.93 635.23L562.43 636.34L568.92 637.46L575.42 638.56L581.91 639.66L588.41 640.76L594.9 641.85L601.4 642.92L607.9 643.98L614.39 645.03L620.89 646.05L627.38 647.05L633.88 648.01L640.37 648.94L646.87 649.82L653.36 650.64L659.86 651.42L666.35 652.14L672.85 652.82L679.35 653.47L685.84 654.08L692.34 654.67L698.83 655.24L705.33 655.8L711.82 656.34L718.32 656.88L724.81 657.4L731.31 657.92L731.31 667.11L724.81 666.01L718.32 664.91L711.82 663.82L705.33 662.74L698.83 661.67L692.34 660.62L685.84 659.58L679.35 658.57L672.85 657.59L666.35 656.65L659.86 655.75L653.36 654.9L646.87 654.11L640.37 653.36L633.88 652.66L627.38 652L620.89 651.37L614.39 650.77L607.9 650.19L601.4 649.63L594.9 649.08L588.41 648.54L581.91 648.02L575.42 647.49L568.92 646.98L562.43 646.47L555.93 645.96L549.44 645.45L542.94 644.95L536.45 644.45L529.95 643.95L523.45 643.46L516.96 642.96L510.46 642.47L503.97 641.98L497.47 641.49L490.98 641L484.48 640.51L477.99 640.02L471.49 639.54Z" fill="#999999" fill-opacity="0.4" clip-path="url(#c7)"/>
<path d="M471.49 618.85L475.82 619.62L480.15 620.39L484.48 621.14L488.81 621.89L493.14 622.63L497.47 623.36L501.8 624.06L506.13 624.76L510.46 625.48L514.79 626.26L519.12 627.13L523.45 628.1L527.78 629.13L532.12 630.18L536.45 631.23L540.78 632.3L545.11 633.41L549.44 634.55L553.77 635.73L558.1 636.99L562.43 638.26L566.76 639.49L571.09 640.66L575.42 641.88L579.75 643.05L584.08 644.02L588.41 644.65L592.74 645.2L597.07 645.73L601.4 646.28L605.73 646.82L610.06 647.36L614.39 647.9L618.72 648.44L623.05 648.98L627.38 649.52L631.71 650.07L636.04 650.61L640.37 651.15L644.7 651.69L649.03 652.23L653.36 652.77L657.69 653.31L662.02 653.85L666.35 654.4L670.68 654.94L675.02 655.48L679.35 656.02L683.68 656.56L688.01 657.1L692.34 657.64L696.67 658.17L701 658.57L705.33 658.86L709.66 659.11L713.99 659.39L718.32 659.69L722.65 659.98L726.98 660.25L731.31 660.52" stroke="#000" stroke-width="1" stroke-dasharray="4.5,4.7" fill="none" clip-path="url(#c7)"/>
<path d="M471.49 630.04L731.31 662.52" stroke="#000" stroke-width="1" fill="none" clip-path="url(#c7)"/>
<rect x="458.5" y="545.5" width="286" height="178" fill="none" stroke="#333333" stroke-width="1.1"/>
<path d="M478.71 723.5v4.3M514.79 723.5v4.3M550.88 723.5v4.3M586.97 723.5v4.3M623.05 723.5v4.3M659.14 723.5v4.3M695.22 723.5v4.3M731.31 723.5v4.3M458.5 715.37h-4.3M458.5 700.05h-4.3M458.5 684.73h-4.3M458.5 669.41h-4.3M458.5 654.09h-4.3M458.5 638.77h-4.3M458.5 623.45h-4.3M458.5 608.13h-4.3M458.5 592.81h-4.3M458.5 577.49h-4.3M458.5 562.17h-4.3M458.5 546.85h-4.3" stroke="#333333" stroke-width="1.45" fill="none"/>
<text x="478.71" y="740.6" text-anchor="middle" font-size="15.3" fill="#4D4D4D">3</text>
<text x="514.79" y="740.6" text-anchor="middle" font-size="15.3" fill="#4D4D4D">4</text>
<text x="550.88" y="740.6" text-anchor="middle" font-size="15.3" fill="#4D4D4D">5</text>
<text x="586.97" y="740.6" text-anchor="middle" font-size="15.3" fill="#4D4D4D">6</text>
<text x="623.05" y="740.6" text-anchor="middle" font-size="15.3" fill="#4D4D4D">7</text>
<text x="659.14" y="740.6" text-anchor="middle" font-size="15.3" fill="#4D4D4D">8</text>
<text x="695.22" y="740.6" text-anchor="middle" font-size="15.3" fill="#4D4D4D">9</text>
<text x="731.31" y="740.6" text-anchor="middle" font-size="15.3" fill="#4D4D4D">10</text>
<text x="450.5" y="720.57" text-anchor="end" font-size="15.3" fill="#4D4D4D">20</text>
<text x="450.5" y="705.25" text-anchor="end" font-size="15.3" fill="#4D4D4D">25</text>
<text x="450.5" y="689.93" text-anchor="end" font-size="15.3" fill="#4D4D4D">30</text>
<text x="450.5" y="674.61" text-anchor="end" font-size="15.3" fill="#4D4D4D">35</text>
<text x="450.5" y="659.29" text-anchor="end" font-size="15.3" fill="#4D4D4D">40</text>
<text x="450.5" y="643.97" text-anchor="end" font-size="15.3" fill="#4D4D4D">45</text>
<text x="450.5" y="628.65" text-anchor="end" font-size="15.3" fill="#4D4D4D">50</text>
<text x="450.5" y="613.33" text-anchor="end" font-size="15.3" fill="#4D4D4D">55</text>
<text x="450.5" y="598.01" text-anchor="end" font-size="15.3" fill="#4D4D4D">60</text>
<text x="450.5" y="582.69" text-anchor="end" font-size="15.3" fill="#4D4D4D">65</text>
<text x="450.5" y="567.37" text-anchor="end" font-size="15.3" fill="#4D4D4D">70</text>
<text x="450.5" y="552.05" text-anchor="end" font-size="15.3" fill="#4D4D4D">75</text>
<text x="605.6" y="760.3" text-anchor="middle" font-size="18.1" fill="#000">Интеграция стилей жизни /</text>
<text x="601.4" y="779.9" text-anchor="middle" font-size="18.1" fill="#000">Integration of life styles</text>
<text transform="translate(408.9,630.45) rotate(-90)" text-anchor="middle" font-size="18.1" fill="#000">Депрессивность /</text>
<text transform="translate(428.5,634.65) rotate(-90)" text-anchor="middle" font-size="17.62" fill="#000">Depressiveness</text>
</g>
<g>
<clipPath id="c8"><rect x="823.6" y="545.8" width="285.8" height="177.7"/></clipPath>
<path d="M851.03 545.8V723.5M879.89 545.8V723.5M908.76 545.8V723.5M937.63 545.8V723.5M966.5 545.8V723.5M995.37 545.8V723.5M1024.24 545.8V723.5M1053.11 545.8V723.5M1081.97 545.8V723.5M823.6 707.71H1109.4M823.6 692.39H1109.4M823.6 677.07H1109.4M823.6 661.75H1109.4M823.6 646.43H1109.4M823.6 631.11H1109.4M823.6 615.79H1109.4M823.6 600.47H1109.4M823.6 585.15H1109.4M823.6 569.83H1109.4M823.6 554.51H1109.4" stroke="#E9E9E9" stroke-width="0.95" fill="none"/>
<path d="M836.59 545.8V723.5M865.46 545.8V723.5M894.33 545.8V723.5M923.2 545.8V723.5M952.07 545.8V723.5M980.93 545.8V723.5M1009.8 545.8V723.5M1038.67 545.8V723.5M1067.54 545.8V723.5M1096.41 545.8V723.5M823.6 715.37H1109.4M823.6 700.05H1109.4M823.6 684.73H1109.4M823.6 669.41H1109.4M823.6 654.09H1109.4M823.6 638.77H1109.4M823.6 623.45H1109.4M823.6 608.13H1109.4M823.6 592.81H1109.4M823.6 577.49H1109.4M823.6 562.17H1109.4M823.6 546.85H1109.4" stroke="#E9E9E9" stroke-width="1.3" fill="none"/>
<path d="M836.59 657.15h0M836.59 654.09h0M836.59 608.13h0M842.36 663.28h0M842.36 654.09h0M848.14 690.86h0M848.14 654.09h0M848.14 638.77h0M848.14 602h0M853.91 660.22h0M853.91 657.15h0M859.69 703.11h0M859.69 669.41h0M859.69 666.35h0M859.69 644.9h0M859.69 626.51h0M865.46 693.92h0M865.46 663.28h0M865.46 632.64h0M871.23 696.99h0M871.23 681.67h0M871.23 672.47h0M871.23 660.22h0M871.23 644.9h0M871.23 635.71h0M871.23 623.45h0M871.23 620.39h0M871.23 614.26h0M877.01 693.92h0M877.01 672.47h0M877.01 660.22h0M877.01 644.9h0M877.01 641.83h0M877.01 632.64h0M877.01 626.51h0M877.01 608.13h0M882.78 672.47h0M882.78 651.03h0M882.78 638.77h0M882.78 626.51h0M882.78 620.39h0M882.78 608.13h0M882.78 595.87h0M888.55 696.99h0M888.55 681.67h0M888.55 672.47h0M888.55 666.35h0M888.55 663.28h0M888.55 660.22h0M888.55 644.9h0M888.55 638.77h0M888.55 617.32h0M888.55 611.19h0M888.55 602h0M888.55 586.68h0M894.33 675.54h0M894.33 669.41h0M894.33 663.28h0M894.33 654.09h0M894.33 647.96h0M894.33 638.77h0M894.33 623.45h0M894.33 620.39h0M894.33 617.32h0M894.33 595.87h0M900.1 672.47h0M900.1 669.41h0M900.1 641.83h0M900.1 617.32h0M900.1 608.13h0M900.1 583.62h0M905.88 687.79h0M905.88 684.73h0M905.88 675.54h0M905.88 672.47h0M905.88 669.41h0M905.88 663.28h0M905.88 657.15h0M905.88 651.03h0M905.88 647.96h0M905.88 644.9h0M905.88 638.77h0M905.88 626.51h0M905.88 620.39h0M905.88 608.13h0M905.88 605.07h0M911.65 690.86h0M911.65 684.73h0M911.65 678.6h0M911.65 672.47h0M911.65 657.15h0M911.65 651.03h0M911.65 592.81h0M911.65 565.23h0M917.42 706.18h0M917.42 690.86h0M917.42 669.41h0M917.42 666.35h0M917.42 657.15h0M917.42 654.09h0M917.42 651.03h0M917.42 647.96h0M917.42 641.83h0M917.42 626.51h0M917.42 614.26h0M917.42 608.13h0M917.42 598.94h0M917.42 589.75h0M923.2 706.18h0M923.2 696.99h0M923.2 693.92h0M923.2 684.73h0M923.2 678.6h0M923.2 663.28h0M923.2 651.03h0M923.2 641.83h0M923.2 638.77h0M923.2 626.51h0M923.2 589.75h0M928.97 703.11h0M928.97 693.92h0M928.97 681.67h0M928.97 675.54h0M928.97 672.47h0M928.97 663.28h0M928.97 660.22h0M928.97 647.96h0M928.97 635.71h0M928.97 632.64h0M928.97 629.58h0M928.97 626.51h0M928.97 608.13h0M934.74 684.73h0M934.74 678.6h0M934.74 675.54h0M934.74 666.35h0M934.74 663.28h0M934.74 657.15h0M934.74 654.09h0M934.74 651.03h0M934.74 641.83h0M934.74 638.77h0M934.74 632.64h0M934.74 605.07h0M934.74 602h0M934.74 589.75h0M940.52 687.79h0M940.52 684.73h0M940.52 681.67h0M940.52 678.6h0M940.52 675.54h0M940.52 672.47h0M940.52 669.41h0M940.52 663.28h0M940.52 660.22h0M940.52 657.15h0M940.52 654.09h0M940.52 651.03h0M940.52 647.96h0M940.52 644.9h0M940.52 641.83h0M940.52 638.77h0M940.52 632.64h0M940.52 623.45h0M940.52 620.39h0M940.52 614.26h0M946.29 684.73h0M946.29 678.6h0M946.29 675.54h0M946.29 669.41h0M946.29 663.28h0M946.29 654.09h0M946.29 647.96h0M946.29 641.83h0M946.29 635.71h0M946.29 617.32h0M952.07 687.79h0M952.07 681.67h0M952.07 672.47h0M952.07 669.41h0M952.07 666.35h0M952.07 663.28h0M952.07 660.22h0M952.07 647.96h0M952.07 644.9h0M952.07 632.64h0M952.07 629.58h0M952.07 626.51h0M952.07 614.26h0M952.07 611.19h0M952.07 605.07h0M952.07 592.81h0M952.07 571.36h0M957.84 700.05h0M957.84 693.92h0M957.84 690.86h0M957.84 687.79h0M957.84 684.73h0M957.84 678.6h0M957.84 675.54h0M957.84 660.22h0M957.84 644.9h0M957.84 641.83h0M957.84 629.58h0M957.84 626.51h0M957.84 617.32h0M957.84 611.19h0M957.84 605.07h0M957.84 602h0M963.61 700.05h0M963.61 687.79h0M963.61 684.73h0M963.61 681.67h0M963.61 678.6h0M963.61 672.47h0M963.61 660.22h0M963.61 657.15h0M963.61 654.09h0M963.61 651.03h0M963.61 647.96h0M963.61 644.9h0M963.61 638.77h0M963.61 632.64h0M963.61 629.58h0M963.61 605.07h0M963.61 583.62h0M963.61 574.43h0M969.39 709.24h0M969.39 690.86h0M969.39 681.67h0M969.39 678.6h0M969.39 675.54h0M969.39 672.47h0M969.39 666.35h0M969.39 660.22h0M969.39 657.15h0M969.39 654.09h0M969.39 651.03h0M969.39 638.77h0M969.39 632.64h0M969.39 629.58h0M969.39 623.45h0M969.39 614.26h0M969.39 602h0M975.16 700.05h0M975.16 693.92h0M975.16 690.86h0M975.16 687.79h0M975.16 672.47h0M975.16 669.41h0M975.16 657.15h0M975.16 647.96h0M975.16 644.9h0M975.16 641.83h0M975.16 638.77h0M975.16 620.39h0M975.16 614.26h0M975.16 611.19h0M975.16 608.13h0M975.16 598.94h0M975.16 565.23h0M980.93 693.92h0M980.93 687.79h0M980.93 684.73h0M980.93 681.67h0M980.93 678.6h0M980.93 675.54h0M980.93 672.47h0M980.93 669.41h0M980.93 663.28h0M980.93 660.22h0M980.93 654.09h0M980.93 651.03h0M980.93 638.77h0M980.93 626.51h0M980.93 620.39h0M980.93 611.19h0M980.93 589.75h0M986.71 703.11h0M986.71 700.05h0M986.71 693.92h0M986.71 681.67h0M986.71 678.6h0M986.71 675.54h0M986.71 669.41h0M986.71 660.22h0M986.71 657.15h0M986.71 654.09h0M986.71 644.9h0M986.71 635.71h0M986.71 623.45h0M986.71 617.32h0M986.71 608.13h0M992.48 712.31h0M992.48 681.67h0M992.48 669.41h0M992.48 666.35h0M992.48 657.15h0M992.48 654.09h0M992.48 651.03h0M992.48 647.96h0M992.48 644.9h0M992.48 641.83h0M992.48 638.77h0M992.48 635.71h0M992.48 632.64h0M992.48 626.51h0M992.48 617.32h0M992.48 605.07h0M992.48 592.81h0M998.26 703.11h0M998.26 700.05h0M998.26 687.79h0M998.26 681.67h0M998.26 675.54h0M998.26 672.47h0M998.26 669.41h0M998.26 666.35h0M998.26 657.15h0M998.26 654.09h0M998.26 651.03h0M998.26 647.96h0M998.26 644.9h0M998.26 641.83h0M998.26 635.71h0M998.26 632.64h0M998.26 629.58h0M998.26 623.45h0M998.26 617.32h0M998.26 614.26h0M998.26 611.19h0M998.26 608.13h0M998.26 586.68h0M1004.03 700.05h0M1004.03 678.6h0M1004.03 672.47h0M1004.03 669.41h0M1004.03 666.35h0M1004.03 663.28h0M1004.03 660.22h0M1004.03 657.15h0M1004.03 654.09h0M1004.03 647.96h0M1004.03 644.9h0M1004.03 641.83h0M1004.03 638.77h0M1004.03 629.58h0M1004.03 626.51h0M1004.03 623.45h0M1004.03 605.07h0M1004.03 602h0M1004.03 595.87h0M1009.8 712.31h0M1009.8 687.79h0M1009.8 684.73h0M1009.8 681.67h0M1009.8 678.6h0M1009.8 675.54h0M1009.8 672.47h0M1009.8 669.41h0M1009.8 666.35h0M1009.8 660.22h0M1009.8 657.15h0M1009.8 654.09h0M1009.8 651.03h0M1009.8 647.96h0M1009.8 644.9h0M1009.8 638.77h0M1009.8 635.71h0M1009.8 632.64h0M1009.8 629.58h0M1009.8 626.51h0M1009.8 623.45h0M1009.8 611.19h0M1009.8 595.87h0M1009.8 586.68h0M1015.58 696.99h0M1015.58 690.86h0M1015.58 687.79h0M1015.58 678.6h0M1015.58 669.41h0M1015.58 660.22h0M1015.58 654.09h0M1015.58 651.03h0M1015.58 647.96h0M1015.58 644.9h0M1015.58 641.83h0M1015.58 635.71h0M1015.58 617.32h0M1015.58 614.26h0M1015.58 611.19h0M1015.58 605.07h0M1015.58 602h0M1015.58 577.49h0M1021.35 693.92h0M1021.35 684.73h0M1021.35 678.6h0M1021.35 675.54h0M1021.35 669.41h0M1021.35 666.35h0M1021.35 663.28h0M1021.35 660.22h0M1021.35 651.03h0M1021.35 647.96h0M1021.35 644.9h0M1021.35 641.83h0M1021.35 635.71h0M1021.35 632.64h0M1021.35 629.58h0M1021.35 626.51h0M1021.35 620.39h0M1021.35 617.32h0M1021.35 614.26h0M1021.35 583.62h0M1021.35 580.55h0M1027.12 696.99h0M1027.12 690.86h0M1027.12 684.73h0M1027.12 681.67h0M1027.12 675.54h0M1027.12 672.47h0M1027.12 669.41h0M1027.12 666.35h0M1027.12 660.22h0M1027.12 657.15h0M1027.12 651.03h0M1027.12 644.9h0M1027.12 641.83h0M1027.12 635.71h0M1027.12 632.64h0M1027.12 629.58h0M1027.12 623.45h0M1027.12 620.39h0M1027.12 617.32h0M1027.12 614.26h0M1027.12 552.98h0M1032.9 709.24h0M1032.9 687.79h0M1032.9 681.67h0M1032.9 678.6h0M1032.9 672.47h0M1032.9 666.35h0M1032.9 663.28h0M1032.9 660.22h0M1032.9 647.96h0M1032.9 641.83h0M1032.9 632.64h0M1032.9 592.81h0M1032.9 589.75h0M1038.67 706.18h0M1038.67 700.05h0M1038.67 696.99h0M1038.67 684.73h0M1038.67 681.67h0M1038.67 678.6h0M1038.67 672.47h0M1038.67 669.41h0M1038.67 666.35h0M1038.67 663.28h0M1038.67 651.03h0M1038.67 647.96h0M1038.67 644.9h0M1038.67 638.77h0M1038.67 635.71h0M1038.67 629.58h0M1038.67 626.51h0M1038.67 623.45h0M1038.67 611.19h0M1038.67 598.94h0M1038.67 583.62h0M1044.45 703.11h0M1044.45 700.05h0M1044.45 693.92h0M1044.45 690.86h0M1044.45 687.79h0M1044.45 675.54h0M1044.45 672.47h0M1044.45 666.35h0M1044.45 660.22h0M1044.45 657.15h0M1044.45 651.03h0M1044.45 647.96h0M1044.45 635.71h0M1044.45 632.64h0M1044.45 620.39h0M1044.45 614.26h0M1044.45 611.19h0M1050.22 703.11h0M1050.22 693.92h0M1050.22 678.6h0M1050.22 675.54h0M1050.22 672.47h0M1050.22 669.41h0M1050.22 666.35h0M1050.22 660.22h0M1050.22 644.9h0M1050.22 641.83h0M1050.22 635.71h0M1050.22 626.51h0M1050.22 620.39h0M1050.22 617.32h0M1050.22 614.26h0M1050.22 608.13h0M1050.22 605.07h0M1055.99 703.11h0M1055.99 696.99h0M1055.99 687.79h0M1055.99 681.67h0M1055.99 678.6h0M1055.99 675.54h0M1055.99 666.35h0M1055.99 660.22h0M1055.99 641.83h0M1055.99 632.64h0M1055.99 623.45h0M1055.99 614.26h0M1061.77 690.86h0M1061.77 687.79h0M1061.77 681.67h0M1061.77 678.6h0M1061.77 672.47h0M1061.77 669.41h0M1061.77 666.35h0M1061.77 663.28h0M1061.77 660.22h0M1061.77 657.15h0M1061.77 651.03h0M1061.77 644.9h0M1061.77 641.83h0M1061.77 638.77h0M1061.77 635.71h0M1061.77 629.58h0M1061.77 623.45h0M1061.77 620.39h0M1067.54 700.05h0M1067.54 690.86h0M1067.54 666.35h0M1067.54 663.28h0M1067.54 657.15h0M1067.54 651.03h0M1067.54 614.26h0M1067.54 611.19h0M1067.54 598.94h0M1073.31 693.92h0M1073.31 684.73h0M1073.31 681.67h0M1073.31 672.47h0M1073.31 669.41h0M1073.31 666.35h0M1073.31 663.28h0M1073.31 660.22h0M1073.31 657.15h0M1073.31 654.09h0M1073.31 651.03h0M1073.31 641.83h0M1073.31 638.77h0M1073.31 632.64h0M1073.31 626.51h0M1073.31 620.39h0M1079.09 715.37h0M1079.09 696.99h0M1079.09 684.73h0M1079.09 678.6h0M1079.09 672.47h0M1079.09 669.41h0M1079.09 660.22h0M1079.09 657.15h0M1079.09 654.09h0M1079.09 651.03h0M1079.09 647.96h0M1079.09 620.39h0M1079.09 617.32h0M1079.09 589.75h0M1079.09 562.17h0M1084.86 684.73h0M1084.86 681.67h0M1084.86 678.6h0M1084.86 675.54h0M1084.86 660.22h0M1084.86 641.83h0M1084.86 638.77h0M1084.86 623.45h0M1084.86 611.19h0M1084.86 605.07h0M1090.64 690.86h0M1090.64 678.6h0M1090.64 669.41h0M1090.64 666.35h0M1090.64 663.28h0M1090.64 641.83h0M1090.64 629.58h0M1090.64 626.51h0M1096.41 703.11h0M1096.41 700.05h0M1096.41 693.92h0M1096.41 684.73h0M1096.41 681.67h0M1096.41 678.6h0M1096.41 669.41h0M1096.41 666.35h0M1096.41 660.22h0M1096.41 657.15h0M1096.41 654.09h0M1096.41 651.03h0M1096.41 647.96h0M1096.41 644.9h0M1096.41 632.64h0M1096.41 629.58h0M1096.41 626.51h0M1096.41 608.13h0M1096.41 580.55h0" stroke="#868686" stroke-width="3.1" stroke-linecap="round" fill="none" clip-path="url(#c8)"/>
<path d="M836.59 640.3L843.09 640.72L849.58 641.13L856.08 641.54L862.57 641.95L869.07 642.36L875.56 642.77L882.06 643.17L888.55 643.57L895.05 643.97L901.55 644.36L908.04 644.75L914.54 645.14L921.03 645.52L927.53 645.9L934.02 646.26L940.52 646.63L947.01 646.98L953.51 647.32L960 647.66L966.5 647.98L973 648.29L979.49 648.58L985.99 648.86L992.48 649.11L998.98 649.36L1005.47 649.58L1011.97 649.79L1018.46 649.97L1024.96 650.14L1031.45 650.29L1037.95 650.43L1044.45 650.55L1050.94 650.66L1057.44 650.76L1063.93 650.85L1070.43 650.93L1076.92 651L1083.42 651.07L1089.91 651.13L1096.41 651.18L1096.41 659.15L1089.91 658.76L1083.42 658.39L1076.92 658.01L1070.43 657.65L1063.93 657.29L1057.44 656.94L1050.94 656.61L1044.45 656.28L1037.95 655.97L1031.45 655.66L1024.96 655.38L1018.46 655.11L1011.97 654.86L1005.47 654.63L998.98 654.42L992.48 654.22L985.99 654.05L979.49 653.89L973 653.74L966.5 653.62L960 653.5L953.51 653.39L947.01 653.3L940.52 653.22L934.02 653.14L927.53 653.08L921.03 653.01L914.54 652.96L908.04 652.91L901.55 652.86L895.05 652.82L888.55 652.78L882.06 652.74L875.56 652.71L869.07 652.68L862.57 652.65L856.08 652.63L849.58 652.6L843.09 652.58L836.59 652.56Z" fill="#999999" fill-opacity="0.4" clip-path="url(#c8)"/>
<path d="M836.59 646.43L840.92 646.58L845.25 646.72L849.58 646.87L853.91 647.01L858.24 647.16L862.57 647.3L866.9 647.45L871.23 647.59L875.56 647.74L879.89 647.89L884.22 648.03L888.55 648.18L892.88 648.32L897.22 648.47L901.55 648.61L905.88 648.76L910.21 648.91L914.54 649.05L918.87 649.19L923.2 649.34L927.53 649.49L931.86 649.63L936.19 649.78L940.52 649.92L944.85 650.07L949.18 650.21L953.51 650.36L957.84 650.51L962.17 650.65L966.5 650.8L970.83 650.94L975.16 651.09L979.49 651.23L983.82 651.38L988.15 651.52L992.48 651.67L996.81 651.82L1001.14 651.96L1005.47 652.1L1009.8 652.25L1014.13 652.4L1018.46 652.54L1022.79 652.69L1027.12 652.83L1031.45 652.98L1035.78 653.12L1040.12 653.27L1044.45 653.42L1048.78 653.56L1053.11 653.71L1057.44 653.85L1061.77 654L1066.1 654.15L1070.43 654.33L1074.76 654.64L1079.09 655.07L1083.42 655.57L1087.75 656.11L1092.08 656.65L1096.41 657.15" stroke="#000" stroke-width="1" stroke-dasharray="4.5,4.7" fill="none" clip-path="url(#c8)"/>
<path d="M836.59 646.43L1096.41 655.16" stroke="#000" stroke-width="1" fill="none" clip-path="url(#c8)"/>
<rect x="823.5" y="545.5" width="286" height="178" fill="none" stroke="#333333" stroke-width="1.1"/>
<path d="M836.59 723.5v4.3M865.46 723.5v4.3M894.33 723.5v4.3M923.2 723.5v4.3M952.07 723.5v4.3M980.93 723.5v4.3M1009.8 723.5v4.3M1038.67 723.5v4.3M1067.54 723.5v4.3M1096.41 723.5v4.3M823.6 715.37h-4.3M823.6 700.05h-4.3M823.6 684.73h-4.3M823.6 669.41h-4.3M823.6 654.09h-4.3M823.6 638.77h-4.3M823.6 623.45h-4.3M823.6 608.13h-4.3M823.6 592.81h-4.3M823.6 577.49h-4.3M823.6 562.17h-4.3M823.6 546.85h-4.3" stroke="#333333" stroke-width="1.45" fill="none"/>
<text x="836.59" y="740.6" text-anchor="middle" font-size="15.3" fill="#4D4D4D">1</text>
<text x="865.46" y="740.6" text-anchor="middle" font-size="15.3" fill="#4D4D4D">2</text>
<text x="894.33" y="740.6" text-anchor="middle" font-size="15.3" fill="#4D4D4D">3</text>
<text x="923.2" y="740.6" text-anchor="middle" font-size="15.3" fill="#4D4D4D">4</text>
<text x="952.07" y="740.6" text-anchor="middle" font-size="15.3" fill="#4D4D4D">5</text>
<text x="980.93" y="740.6" text-anchor="middle" font-size="15.3" fill="#4D4D4D">6</text>
<text x="1009.8" y="740.6" text-anchor="middle" font-size="15.3" fill="#4D4D4D">7</text>
<text x="1038.67" y="740.6" text-anchor="middle" font-size="15.3" fill="#4D4D4D">8</text>
<text x="1067.54" y="740.6" text-anchor="middle" font-size="15.3" fill="#4D4D4D">9</text>
<text x="1096.41" y="740.6" text-anchor="middle" font-size="15.3" fill="#4D4D4D">10</text>
<text x="815.6" y="720.57" text-anchor="end" font-size="15.3" fill="#4D4D4D">20</text>
<text x="815.6" y="705.25" text-anchor="end" font-size="15.3" fill="#4D4D4D">25</text>
<text x="815.6" y="689.93" text-anchor="end" font-size="15.3" fill="#4D4D4D">30</text>
<text x="815.6" y="674.61" text-anchor="end" font-size="15.3" fill="#4D4D4D">35</text>
<text x="815.6" y="659.29" text-anchor="end" font-size="15.3" fill="#4D4D4D">40</text>
<text x="815.6" y="643.97" text-anchor="end" font-size="15.3" fill="#4D4D4D">45</text>
<text x="815.6" y="628.65" text-anchor="end" font-size="15.3" fill="#4D4D4D">50</text>
<text x="815.6" y="613.33" text-anchor="end" font-size="15.3" fill="#4D4D4D">55</text>
<text x="815.6" y="598.01" text-anchor="end" font-size="15.3" fill="#4D4D4D">60</text>
<text x="815.6" y="582.69" text-anchor="end" font-size="15.3" fill="#4D4D4D">65</text>
<text x="815.6" y="567.37" text-anchor="end" font-size="15.3" fill="#4D4D4D">70</text>
<text x="815.6" y="552.05" text-anchor="end" font-size="15.3" fill="#4D4D4D">75</text>
<text x="970.7" y="760.3" text-anchor="middle" font-size="18.1" fill="#000">Предпринимательство /</text>
<text x="966.5" y="779.9" text-anchor="middle" font-size="18.1" fill="#000">Enterpreneurship</text>
<text transform="translate(774,630.45) rotate(-90)" text-anchor="middle" font-size="18.1" fill="#000">Депрессивность /</text>
<text transform="translate(793.6,634.65) rotate(-90)" text-anchor="middle" font-size="17.62" fill="#000">Depressiveness</text>
</g>
</svg>
</body></html>
